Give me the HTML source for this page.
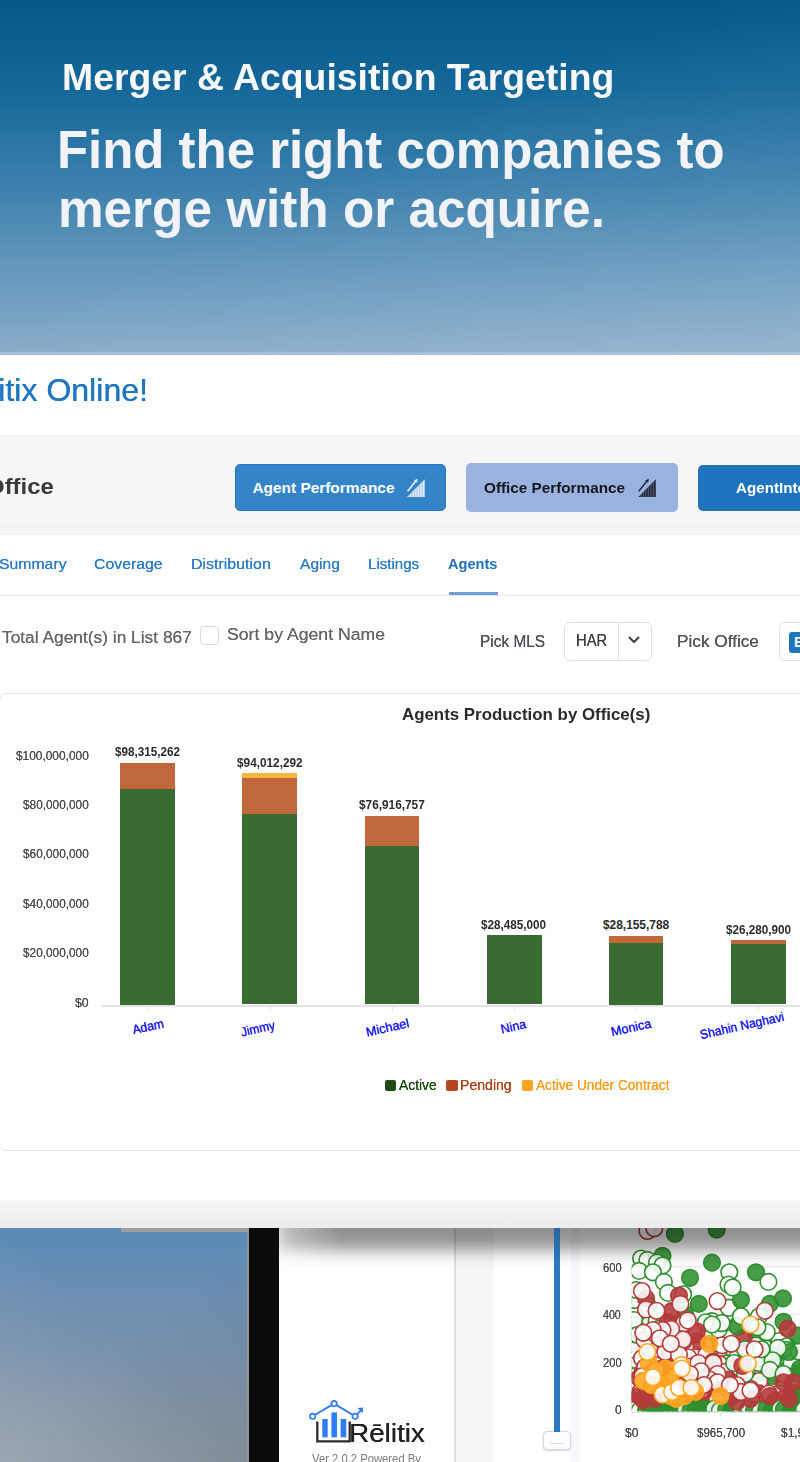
<!DOCTYPE html>
<html lang="en">
<head>
<meta charset="utf-8">
<title>Merger &amp; Acquisition Targeting</title>
<style>
html,body{margin:0;padding:0}
body{width:800px;height:1462px;position:relative;overflow:hidden;font-family:"Liberation Sans",sans-serif;background:#7f9dbd}
.abs,.t,.bar i{position:absolute}
.t{white-space:nowrap;line-height:1;transform-origin:0 50%;display:block}
.xl{font-size:13px;color:#1a1af2;transform-origin:50% 50%;text-shadow:0 0 .5px #1a1af2}
#hero{left:0;top:0;width:800px;height:356px;background:
 linear-gradient(155deg,rgba(255,255,255,0) 45%,rgba(255,255,255,.12) 100%),
 linear-gradient(180deg,#04588a 0%,#156899 25%,#387eab 50%,#6497bc 75%,#8aadca 100%)}
#app{left:0;top:354.5px;width:800px;height:873.5px;background:#fff}
#band{left:0;top:434.5px;width:800px;height:100.5px;background:#f6f6f7}
.btn{border-radius:5px}
#tabline{left:0;top:594.5px;width:800px;height:1.5px;background:#e7eaf1}
#tabsel{left:449px;top:591.5px;width:48.5px;height:3.5px;background:#6f9bd9}
#card{left:-1px;top:692.5px;width:820px;height:458px;border:1.5px solid #e4e6eb;border-radius:7px;background:#fff;box-sizing:border-box}
.bar i{left:0;width:100%}
#foot{left:0;top:1199.5px;width:800px;height:28.5px;background:linear-gradient(180deg,#f7f7f7,#ececec)}
#low{left:0;top:1228px;width:800px;height:234px;overflow:hidden;background:linear-gradient(to bottom left,rgba(255,255,255,0) 50%,rgba(255,255,255,.13) 100%) 0 0/247px 234px no-repeat,linear-gradient(to bottom right,rgba(0,0,0,0) 50%,rgba(0,0,0,.08) 100%) 0 0/247px 234px no-repeat,linear-gradient(180deg,#5a8bb8 0%,#6a8eb3 25%,#7691ac 50%,#8395a8 75%,#8d99a5 100%) 0 0/247px 234px no-repeat #8a96a2}
</style>
</head>
<body>
<div id="hero" class="abs"></div>

<div id="low" class="abs">
  <div class="abs" style="left:121px;top:0;width:127px;height:3.6px;background:#9e9e9e"></div>
  <div class="abs" style="left:246.5px;top:0;width:3px;height:234px;background:#8f979f"></div>
  <div class="abs" style="left:249px;top:0;width:30px;height:234px;background:#0c0c0c"></div>
  <div class="abs" style="left:279px;top:0;width:521px;height:234px;background:#fff;overflow:hidden">
    <div class="abs" style="left:175px;top:0;width:1.5px;height:234px;background:#dedede"></div>
    <div class="abs" style="left:176.5px;top:0;width:38.5px;height:234px;background:#f7f7f7"></div>
    <div class="abs" style="left:292px;top:0;width:9px;height:234px;background:#f8f8fd"></div>
    <!-- slider -->
    <div class="abs" style="left:263.5px;top:202.5px;width:28px;height:19px;border:1.5px solid #d6d6d6;border-radius:4px;background:#fdfdfd;box-sizing:border-box;box-shadow:0 1px 2px rgba(0,0,0,.15)"></div>
    <div class="abs" style="left:271px;top:215px;width:13px;height:1px;background:#ddd"></div>
    <!-- scatter -->
    <svg class="abs" style="left:-279px;top:-1228px" width="800" height="1462" viewBox="0 0 800 1462">
      <g stroke="#e4e4e4" stroke-width="1">
        <line x1="632" y1="1266.8" x2="800" y2="1266.8"/><line x1="632" y1="1314.3" x2="800" y2="1314.3"/>
        <line x1="632" y1="1362" x2="800" y2="1362"/><line x1="632" y1="1412.5" x2="800" y2="1412.5"/>
        <line x1="632" y1="1412.5" x2="632" y2="1417"/><line x1="720.5" y1="1412.5" x2="720.5" y2="1417"/>
      </g>
      <clipPath id="pc"><rect x="631.7" y="1200" width="200" height="211.3"/></clipPath>
      <g clip-path="url(#pc)">
<circle cx="716.1" cy="1399.3" r="8.3" fill="#fff" fill-opacity=".88" stroke="#2f8f2f" stroke-width="1.6"/>
<circle cx="689.4" cy="1393.5" r="8.3" fill="#fff" fill-opacity=".88" stroke="#2f8f2f" stroke-width="1.6"/>
<circle cx="664.4" cy="1399.4" r="8.3" fill="#fff" fill-opacity=".88" stroke="#2f8f2f" stroke-width="1.6"/>
<circle cx="709.4" cy="1382.2" r="8.3" fill="#fff" fill-opacity=".88" stroke="#2f8f2f" stroke-width="1.6"/>
<circle cx="774.1" cy="1403.6" r="8.3" fill="#fff" fill-opacity=".88" stroke="#2f8f2f" stroke-width="1.6"/>
<circle cx="767.3" cy="1378.1" r="8.3" fill="#fff" fill-opacity=".88" stroke="#2f8f2f" stroke-width="1.6"/>
<circle cx="676.8" cy="1393.5" r="8.3" fill="#fff" fill-opacity=".88" stroke="#2f8f2f" stroke-width="1.6"/>
<circle cx="679.1" cy="1396.9" r="8.3" fill="#fff" fill-opacity=".88" stroke="#2f8f2f" stroke-width="1.6"/>
<circle cx="727.3" cy="1383.7" r="8.3" fill="#2f8f2f" fill-opacity=".88" stroke="#2f8f2f" stroke-width="1.6"/>
<circle cx="728.9" cy="1381.5" r="8.3" fill="#fff" fill-opacity=".88" stroke="#2f8f2f" stroke-width="1.6"/>
<circle cx="767.8" cy="1368.3" r="8.3" fill="#fff" fill-opacity=".88" stroke="#2f8f2f" stroke-width="1.6"/>
<circle cx="686.7" cy="1320.2" r="8.3" fill="#fff" fill-opacity=".88" stroke="#2f8f2f" stroke-width="1.6"/>
<circle cx="664.6" cy="1356.9" r="8.3" fill="#2f8f2f" fill-opacity=".88" stroke="#2f8f2f" stroke-width="1.6"/>
<circle cx="806.3" cy="1394.2" r="8.3" fill="#fff" fill-opacity=".88" stroke="#2f8f2f" stroke-width="1.6"/>
<circle cx="741.0" cy="1356.6" r="8.3" fill="#fff" fill-opacity=".88" stroke="#2f8f2f" stroke-width="1.6"/>
<circle cx="768.2" cy="1385.1" r="8.3" fill="#fff" fill-opacity=".88" stroke="#2f8f2f" stroke-width="1.6"/>
<circle cx="639.3" cy="1390.0" r="8.3" fill="#fff" fill-opacity=".88" stroke="#2f8f2f" stroke-width="1.6"/>
<circle cx="637.8" cy="1365.0" r="8.3" fill="#fff" fill-opacity=".88" stroke="#2f8f2f" stroke-width="1.6"/>
<circle cx="696.3" cy="1375.1" r="8.3" fill="#fff" fill-opacity=".88" stroke="#2f8f2f" stroke-width="1.6"/>
<circle cx="776.4" cy="1387.9" r="8.3" fill="#fff" fill-opacity=".88" stroke="#2f8f2f" stroke-width="1.6"/>
<circle cx="753.5" cy="1398.1" r="8.3" fill="#fff" fill-opacity=".88" stroke="#2f8f2f" stroke-width="1.6"/>
<circle cx="754.8" cy="1336.2" r="8.3" fill="#fff" fill-opacity=".88" stroke="#2f8f2f" stroke-width="1.6"/>
<circle cx="784.9" cy="1393.9" r="8.3" fill="#fff" fill-opacity=".88" stroke="#2f8f2f" stroke-width="1.6"/>
<circle cx="686.5" cy="1379.1" r="8.3" fill="#fff" fill-opacity=".88" stroke="#2f8f2f" stroke-width="1.6"/>
<circle cx="697.8" cy="1389.8" r="8.3" fill="#2f8f2f" fill-opacity=".88" stroke="#2f8f2f" stroke-width="1.6"/>
<circle cx="679.5" cy="1326.2" r="8.3" fill="#fff" fill-opacity=".88" stroke="#2f8f2f" stroke-width="1.6"/>
<circle cx="671.0" cy="1378.0" r="8.3" fill="#fff" fill-opacity=".88" stroke="#2f8f2f" stroke-width="1.6"/>
<circle cx="765.6" cy="1364.7" r="8.3" fill="#fff" fill-opacity=".88" stroke="#2f8f2f" stroke-width="1.6"/>
<circle cx="688.3" cy="1395.6" r="8.3" fill="#fff" fill-opacity=".88" stroke="#2f8f2f" stroke-width="1.6"/>
<circle cx="731.0" cy="1338.1" r="8.3" fill="#fff" fill-opacity=".88" stroke="#2f8f2f" stroke-width="1.6"/>
<circle cx="755.4" cy="1397.5" r="8.3" fill="#2f8f2f" fill-opacity=".88" stroke="#2f8f2f" stroke-width="1.6"/>
<circle cx="728.0" cy="1360.2" r="8.3" fill="#fff" fill-opacity=".88" stroke="#2f8f2f" stroke-width="1.6"/>
<circle cx="778.5" cy="1353.4" r="8.3" fill="#fff" fill-opacity=".88" stroke="#2f8f2f" stroke-width="1.6"/>
<circle cx="771.8" cy="1389.1" r="8.3" fill="#fff" fill-opacity=".88" stroke="#2f8f2f" stroke-width="1.6"/>
<circle cx="760.3" cy="1355.3" r="8.3" fill="#2f8f2f" fill-opacity=".88" stroke="#2f8f2f" stroke-width="1.6"/>
<circle cx="703.2" cy="1405.0" r="8.3" fill="#fff" fill-opacity=".88" stroke="#2f8f2f" stroke-width="1.6"/>
<circle cx="658.3" cy="1388.9" r="8.3" fill="#fff" fill-opacity=".88" stroke="#2f8f2f" stroke-width="1.6"/>
<circle cx="772.7" cy="1365.1" r="8.3" fill="#fff" fill-opacity=".88" stroke="#2f8f2f" stroke-width="1.6"/>
<circle cx="637.1" cy="1295.0" r="8.3" fill="#fff" fill-opacity=".88" stroke="#2f8f2f" stroke-width="1.6"/>
<circle cx="773.2" cy="1354.4" r="8.3" fill="#fff" fill-opacity=".88" stroke="#2f8f2f" stroke-width="1.6"/>
<circle cx="733.0" cy="1408.6" r="8.3" fill="#fff" fill-opacity=".88" stroke="#2f8f2f" stroke-width="1.6"/>
<circle cx="664.5" cy="1369.1" r="8.3" fill="#fff" fill-opacity=".88" stroke="#2f8f2f" stroke-width="1.6"/>
<circle cx="698.9" cy="1397.0" r="8.3" fill="#fff" fill-opacity=".88" stroke="#2f8f2f" stroke-width="1.6"/>
<circle cx="717.7" cy="1401.3" r="8.3" fill="#fff" fill-opacity=".88" stroke="#2f8f2f" stroke-width="1.6"/>
<circle cx="736.4" cy="1345.2" r="8.3" fill="#fff" fill-opacity=".88" stroke="#2f8f2f" stroke-width="1.6"/>
<circle cx="655.6" cy="1375.1" r="8.3" fill="#fff" fill-opacity=".88" stroke="#2f8f2f" stroke-width="1.6"/>
<circle cx="723.1" cy="1361.1" r="8.3" fill="#fff" fill-opacity=".88" stroke="#2f8f2f" stroke-width="1.6"/>
<circle cx="770.6" cy="1348.3" r="8.3" fill="#2f8f2f" fill-opacity=".88" stroke="#2f8f2f" stroke-width="1.6"/>
<circle cx="758.2" cy="1389.0" r="8.3" fill="#fff" fill-opacity=".88" stroke="#2f8f2f" stroke-width="1.6"/>
<circle cx="674.0" cy="1402.8" r="8.3" fill="#fff" fill-opacity=".88" stroke="#2f8f2f" stroke-width="1.6"/>
<circle cx="706.9" cy="1367.3" r="8.3" fill="#fff" fill-opacity=".88" stroke="#2f8f2f" stroke-width="1.6"/>
<circle cx="789.1" cy="1371.6" r="8.3" fill="#fff" fill-opacity=".88" stroke="#2f8f2f" stroke-width="1.6"/>
<circle cx="765.1" cy="1348.0" r="8.3" fill="#fff" fill-opacity=".88" stroke="#2f8f2f" stroke-width="1.6"/>
<circle cx="702.7" cy="1387.8" r="8.3" fill="#fff" fill-opacity=".88" stroke="#2f8f2f" stroke-width="1.6"/>
<circle cx="701.8" cy="1369.6" r="8.3" fill="#fff" fill-opacity=".88" stroke="#2f8f2f" stroke-width="1.6"/>
<circle cx="671.5" cy="1312.1" r="8.3" fill="#fff" fill-opacity=".88" stroke="#2f8f2f" stroke-width="1.6"/>
<circle cx="721.2" cy="1397.3" r="8.3" fill="#fff" fill-opacity=".88" stroke="#2f8f2f" stroke-width="1.6"/>
<circle cx="652.2" cy="1358.5" r="8.3" fill="#fff" fill-opacity=".88" stroke="#2f8f2f" stroke-width="1.6"/>
<circle cx="672.0" cy="1358.8" r="8.3" fill="#fff" fill-opacity=".88" stroke="#2f8f2f" stroke-width="1.6"/>
<circle cx="677.0" cy="1356.3" r="8.3" fill="#fff" fill-opacity=".88" stroke="#2f8f2f" stroke-width="1.6"/>
<circle cx="647.4" cy="1403.8" r="8.3" fill="#fff" fill-opacity=".88" stroke="#2f8f2f" stroke-width="1.6"/>
<circle cx="707.1" cy="1401.9" r="8.3" fill="#2f8f2f" fill-opacity=".88" stroke="#2f8f2f" stroke-width="1.6"/>
<circle cx="637.1" cy="1370.0" r="8.3" fill="#fff" fill-opacity=".88" stroke="#2f8f2f" stroke-width="1.6"/>
<circle cx="682.5" cy="1397.9" r="8.3" fill="#fff" fill-opacity=".88" stroke="#2f8f2f" stroke-width="1.6"/>
<circle cx="754.4" cy="1385.6" r="8.3" fill="#fff" fill-opacity=".88" stroke="#2f8f2f" stroke-width="1.6"/>
<circle cx="706.6" cy="1383.8" r="8.3" fill="#fff" fill-opacity=".88" stroke="#2f8f2f" stroke-width="1.6"/>
<circle cx="728.3" cy="1394.6" r="8.3" fill="#fff" fill-opacity=".88" stroke="#2f8f2f" stroke-width="1.6"/>
<circle cx="696.0" cy="1375.9" r="8.3" fill="#fff" fill-opacity=".88" stroke="#2f8f2f" stroke-width="1.6"/>
<circle cx="756.5" cy="1373.0" r="8.3" fill="#fff" fill-opacity=".88" stroke="#2f8f2f" stroke-width="1.6"/>
<circle cx="715.9" cy="1377.1" r="8.3" fill="#fff" fill-opacity=".88" stroke="#2f8f2f" stroke-width="1.6"/>
<circle cx="717.3" cy="1392.9" r="8.3" fill="#fff" fill-opacity=".88" stroke="#2f8f2f" stroke-width="1.6"/>
<circle cx="636.4" cy="1305.0" r="8.3" fill="#fff" fill-opacity=".88" stroke="#2f8f2f" stroke-width="1.6"/>
<circle cx="711.5" cy="1391.5" r="8.3" fill="#fff" fill-opacity=".88" stroke="#2f8f2f" stroke-width="1.6"/>
<circle cx="654.2" cy="1370.8" r="8.3" fill="#fff" fill-opacity=".88" stroke="#2f8f2f" stroke-width="1.6"/>
<circle cx="635.4" cy="1310.0" r="8.3" fill="#fff" fill-opacity=".88" stroke="#2f8f2f" stroke-width="1.6"/>
<circle cx="682.2" cy="1324.7" r="8.3" fill="#fff" fill-opacity=".88" stroke="#2f8f2f" stroke-width="1.6"/>
<circle cx="656.7" cy="1321.1" r="8.3" fill="#fff" fill-opacity=".88" stroke="#2f8f2f" stroke-width="1.6"/>
<circle cx="715.3" cy="1386.6" r="8.3" fill="#2f8f2f" fill-opacity=".88" stroke="#2f8f2f" stroke-width="1.6"/>
<circle cx="706.0" cy="1379.7" r="8.3" fill="#fff" fill-opacity=".88" stroke="#2f8f2f" stroke-width="1.6"/>
<circle cx="740.6" cy="1355.5" r="8.3" fill="#fff" fill-opacity=".88" stroke="#2f8f2f" stroke-width="1.6"/>
<circle cx="636.1" cy="1315.0" r="8.3" fill="#fff" fill-opacity=".88" stroke="#2f8f2f" stroke-width="1.6"/>
<circle cx="801.4" cy="1369.4" r="8.3" fill="#fff" fill-opacity=".88" stroke="#2f8f2f" stroke-width="1.6"/>
<circle cx="722.9" cy="1387.5" r="8.3" fill="#fff" fill-opacity=".88" stroke="#2f8f2f" stroke-width="1.6"/>
<circle cx="693.6" cy="1397.8" r="8.3" fill="#fff" fill-opacity=".88" stroke="#2f8f2f" stroke-width="1.6"/>
<circle cx="669.1" cy="1370.8" r="8.3" fill="#fff" fill-opacity=".88" stroke="#2f8f2f" stroke-width="1.6"/>
<circle cx="707.7" cy="1333.6" r="8.3" fill="#fff" fill-opacity=".88" stroke="#2f8f2f" stroke-width="1.6"/>
<circle cx="762.4" cy="1406.4" r="8.3" fill="#2f8f2f" fill-opacity=".88" stroke="#2f8f2f" stroke-width="1.6"/>
<circle cx="744.4" cy="1386.8" r="8.3" fill="#fff" fill-opacity=".88" stroke="#2f8f2f" stroke-width="1.6"/>
<circle cx="691.4" cy="1390.4" r="8.3" fill="#2f8f2f" fill-opacity=".88" stroke="#2f8f2f" stroke-width="1.6"/>
<circle cx="634.8" cy="1395.0" r="8.3" fill="#fff" fill-opacity=".88" stroke="#2f8f2f" stroke-width="1.6"/>
<circle cx="736.5" cy="1369.6" r="8.3" fill="#fff" fill-opacity=".88" stroke="#2f8f2f" stroke-width="1.6"/>
<circle cx="666.9" cy="1374.0" r="8.3" fill="#fff" fill-opacity=".88" stroke="#2f8f2f" stroke-width="1.6"/>
<circle cx="700.9" cy="1374.5" r="8.3" fill="#fff" fill-opacity=".88" stroke="#2f8f2f" stroke-width="1.6"/>
<circle cx="744.5" cy="1345.6" r="8.3" fill="#fff" fill-opacity=".88" stroke="#2f8f2f" stroke-width="1.6"/>
<circle cx="767.1" cy="1364.6" r="8.3" fill="#fff" fill-opacity=".88" stroke="#2f8f2f" stroke-width="1.6"/>
<circle cx="748.3" cy="1365.0" r="8.3" fill="#fff" fill-opacity=".88" stroke="#2f8f2f" stroke-width="1.6"/>
<circle cx="708.8" cy="1388.8" r="8.3" fill="#fff" fill-opacity=".88" stroke="#2f8f2f" stroke-width="1.6"/>
<circle cx="683.9" cy="1350.4" r="8.3" fill="#fff" fill-opacity=".88" stroke="#2f8f2f" stroke-width="1.6"/>
<circle cx="756.9" cy="1399.3" r="8.3" fill="#2f8f2f" fill-opacity=".88" stroke="#2f8f2f" stroke-width="1.6"/>
<circle cx="731.1" cy="1381.6" r="8.3" fill="#fff" fill-opacity=".88" stroke="#2f8f2f" stroke-width="1.6"/>
<circle cx="717.7" cy="1365.4" r="8.3" fill="#fff" fill-opacity=".88" stroke="#2f8f2f" stroke-width="1.6"/>
<circle cx="653.3" cy="1402.8" r="8.3" fill="#fff" fill-opacity=".88" stroke="#2f8f2f" stroke-width="1.6"/>
<circle cx="639.2" cy="1377.7" r="8.3" fill="#fff" fill-opacity=".88" stroke="#2f8f2f" stroke-width="1.6"/>
<circle cx="718.0" cy="1402.0" r="8.3" fill="#fff" fill-opacity=".88" stroke="#2f8f2f" stroke-width="1.6"/>
<circle cx="752.3" cy="1382.2" r="8.3" fill="#2f8f2f" fill-opacity=".88" stroke="#2f8f2f" stroke-width="1.6"/>
<circle cx="739.9" cy="1372.3" r="8.3" fill="#fff" fill-opacity=".88" stroke="#2f8f2f" stroke-width="1.6"/>
<circle cx="692.2" cy="1398.3" r="8.3" fill="#fff" fill-opacity=".88" stroke="#2f8f2f" stroke-width="1.6"/>
<circle cx="692.0" cy="1357.0" r="8.3" fill="#fff" fill-opacity=".88" stroke="#2f8f2f" stroke-width="1.6"/>
<circle cx="714.4" cy="1365.0" r="8.3" fill="#fff" fill-opacity=".88" stroke="#2f8f2f" stroke-width="1.6"/>
<circle cx="697.8" cy="1380.9" r="8.3" fill="#fff" fill-opacity=".88" stroke="#2f8f2f" stroke-width="1.6"/>
<circle cx="653.8" cy="1396.7" r="8.3" fill="#fff" fill-opacity=".88" stroke="#2f8f2f" stroke-width="1.6"/>
<circle cx="634.7" cy="1400.0" r="8.3" fill="#fff" fill-opacity=".88" stroke="#2f8f2f" stroke-width="1.6"/>
<circle cx="733.4" cy="1360.5" r="8.3" fill="#fff" fill-opacity=".88" stroke="#2f8f2f" stroke-width="1.6"/>
<circle cx="719.2" cy="1397.2" r="8.3" fill="#fff" fill-opacity=".88" stroke="#2f8f2f" stroke-width="1.6"/>
<circle cx="671.5" cy="1325.1" r="8.3" fill="#fff" fill-opacity=".88" stroke="#2f8f2f" stroke-width="1.6"/>
<circle cx="676.3" cy="1325.4" r="8.3" fill="#fff" fill-opacity=".88" stroke="#2f8f2f" stroke-width="1.6"/>
<circle cx="740.5" cy="1361.4" r="8.3" fill="#2f8f2f" fill-opacity=".88" stroke="#2f8f2f" stroke-width="1.6"/>
<circle cx="711.4" cy="1372.9" r="8.3" fill="#fff" fill-opacity=".88" stroke="#2f8f2f" stroke-width="1.6"/>
<circle cx="757.7" cy="1395.4" r="8.3" fill="#fff" fill-opacity=".88" stroke="#2f8f2f" stroke-width="1.6"/>
<circle cx="690.4" cy="1397.8" r="8.3" fill="#fff" fill-opacity=".88" stroke="#2f8f2f" stroke-width="1.6"/>
<circle cx="698.4" cy="1404.6" r="8.3" fill="#fff" fill-opacity=".88" stroke="#2f8f2f" stroke-width="1.6"/>
<circle cx="732.9" cy="1370.9" r="8.3" fill="#fff" fill-opacity=".88" stroke="#2f8f2f" stroke-width="1.6"/>
<circle cx="675.1" cy="1358.3" r="8.3" fill="#fff" fill-opacity=".88" stroke="#2f8f2f" stroke-width="1.6"/>
<circle cx="634.6" cy="1300.0" r="8.3" fill="#fff" fill-opacity=".88" stroke="#2f8f2f" stroke-width="1.6"/>
<circle cx="639.8" cy="1374.9" r="8.3" fill="#fff" fill-opacity=".88" stroke="#2f8f2f" stroke-width="1.6"/>
<circle cx="799.3" cy="1372.0" r="8.3" fill="#fff" fill-opacity=".88" stroke="#2f8f2f" stroke-width="1.6"/>
<circle cx="743.9" cy="1338.8" r="8.3" fill="#fff" fill-opacity=".88" stroke="#2f8f2f" stroke-width="1.6"/>
<circle cx="770.1" cy="1367.7" r="8.3" fill="#2f8f2f" fill-opacity=".88" stroke="#2f8f2f" stroke-width="1.6"/>
<circle cx="709.5" cy="1364.5" r="8.3" fill="#fff" fill-opacity=".88" stroke="#2f8f2f" stroke-width="1.6"/>
<circle cx="779.3" cy="1341.0" r="8.3" fill="#fff" fill-opacity=".88" stroke="#2f8f2f" stroke-width="1.6"/>
<circle cx="665.3" cy="1373.9" r="8.3" fill="#fff" fill-opacity=".88" stroke="#2f8f2f" stroke-width="1.6"/>
<circle cx="731.7" cy="1387.8" r="8.3" fill="#fff" fill-opacity=".88" stroke="#2f8f2f" stroke-width="1.6"/>
<circle cx="678.3" cy="1388.0" r="8.3" fill="#fff" fill-opacity=".88" stroke="#2f8f2f" stroke-width="1.6"/>
<circle cx="703.2" cy="1346.3" r="8.3" fill="#fff" fill-opacity=".88" stroke="#2f8f2f" stroke-width="1.6"/>
<circle cx="725.3" cy="1353.7" r="8.3" fill="#2f8f2f" fill-opacity=".88" stroke="#2f8f2f" stroke-width="1.6"/>
<circle cx="637.1" cy="1355.0" r="8.3" fill="#fff" fill-opacity=".88" stroke="#2f8f2f" stroke-width="1.6"/>
<circle cx="738.2" cy="1403.5" r="8.3" fill="#fff" fill-opacity=".88" stroke="#2f8f2f" stroke-width="1.6"/>
<circle cx="638.4" cy="1390.5" r="8.3" fill="#fff" fill-opacity=".88" stroke="#2f8f2f" stroke-width="1.6"/>
<circle cx="682.2" cy="1354.2" r="8.3" fill="#fff" fill-opacity=".88" stroke="#2f8f2f" stroke-width="1.6"/>
<circle cx="757.1" cy="1338.3" r="8.3" fill="#2f8f2f" fill-opacity=".88" stroke="#2f8f2f" stroke-width="1.6"/>
<circle cx="759.3" cy="1352.9" r="8.3" fill="#2f8f2f" fill-opacity=".88" stroke="#2f8f2f" stroke-width="1.6"/>
<circle cx="634.3" cy="1405.0" r="8.3" fill="#fff" fill-opacity=".88" stroke="#2f8f2f" stroke-width="1.6"/>
<circle cx="684.3" cy="1399.3" r="8.3" fill="#fff" fill-opacity=".88" stroke="#2f8f2f" stroke-width="1.6"/>
<circle cx="782.7" cy="1356.4" r="8.3" fill="#2f8f2f" fill-opacity=".88" stroke="#2f8f2f" stroke-width="1.6"/>
<circle cx="661.7" cy="1350.2" r="8.3" fill="#fff" fill-opacity=".88" stroke="#2f8f2f" stroke-width="1.6"/>
<circle cx="646.4" cy="1368.7" r="8.3" fill="#fff" fill-opacity=".88" stroke="#2f8f2f" stroke-width="1.6"/>
<circle cx="733.6" cy="1346.1" r="8.3" fill="#fff" fill-opacity=".88" stroke="#2f8f2f" stroke-width="1.6"/>
<circle cx="716.3" cy="1386.7" r="8.3" fill="#fff" fill-opacity=".88" stroke="#2f8f2f" stroke-width="1.6"/>
<circle cx="669.9" cy="1393.7" r="8.3" fill="#fff" fill-opacity=".88" stroke="#2f8f2f" stroke-width="1.6"/>
<circle cx="797.4" cy="1355.3" r="8.3" fill="#fff" fill-opacity=".88" stroke="#2f8f2f" stroke-width="1.6"/>
<circle cx="770.9" cy="1381.3" r="8.3" fill="#fff" fill-opacity=".88" stroke="#2f8f2f" stroke-width="1.6"/>
<circle cx="770.9" cy="1395.2" r="8.3" fill="#fff" fill-opacity=".88" stroke="#2f8f2f" stroke-width="1.6"/>
<circle cx="660.1" cy="1396.1" r="8.3" fill="#2f8f2f" fill-opacity=".88" stroke="#2f8f2f" stroke-width="1.6"/>
<circle cx="661.8" cy="1386.6" r="8.3" fill="#fff" fill-opacity=".88" stroke="#2f8f2f" stroke-width="1.6"/>
<circle cx="693.8" cy="1363.0" r="8.3" fill="#fff" fill-opacity=".88" stroke="#2f8f2f" stroke-width="1.6"/>
<circle cx="737.7" cy="1406.6" r="8.3" fill="#fff" fill-opacity=".88" stroke="#2f8f2f" stroke-width="1.6"/>
<circle cx="753.3" cy="1350.7" r="8.3" fill="#2f8f2f" fill-opacity=".88" stroke="#2f8f2f" stroke-width="1.6"/>
<circle cx="681.5" cy="1403.3" r="8.3" fill="#fff" fill-opacity=".88" stroke="#2f8f2f" stroke-width="1.6"/>
<circle cx="637.3" cy="1375.0" r="8.3" fill="#fff" fill-opacity=".88" stroke="#2f8f2f" stroke-width="1.6"/>
<circle cx="675.9" cy="1363.3" r="8.3" fill="#fff" fill-opacity=".88" stroke="#2f8f2f" stroke-width="1.6"/>
<circle cx="676.6" cy="1380.1" r="8.3" fill="#fff" fill-opacity=".88" stroke="#2f8f2f" stroke-width="1.6"/>
<circle cx="680.4" cy="1385.5" r="8.3" fill="#fff" fill-opacity=".88" stroke="#2f8f2f" stroke-width="1.6"/>
<circle cx="681.8" cy="1398.2" r="8.3" fill="#fff" fill-opacity=".88" stroke="#2f8f2f" stroke-width="1.6"/>
<circle cx="774.5" cy="1378.8" r="8.3" fill="#fff" fill-opacity=".88" stroke="#2f8f2f" stroke-width="1.6"/>
<circle cx="749.1" cy="1408.1" r="8.3" fill="#fff" fill-opacity=".88" stroke="#2f8f2f" stroke-width="1.6"/>
<circle cx="746.4" cy="1388.3" r="8.3" fill="#fff" fill-opacity=".88" stroke="#2f8f2f" stroke-width="1.6"/>
<circle cx="659.0" cy="1393.6" r="8.3" fill="#fff" fill-opacity=".88" stroke="#2f8f2f" stroke-width="1.6"/>
<circle cx="648.8" cy="1398.8" r="8.3" fill="#fff" fill-opacity=".88" stroke="#2f8f2f" stroke-width="1.6"/>
<circle cx="742.4" cy="1391.5" r="8.3" fill="#fff" fill-opacity=".88" stroke="#2f8f2f" stroke-width="1.6"/>
<circle cx="672.1" cy="1399.4" r="8.3" fill="#fff" fill-opacity=".88" stroke="#2f8f2f" stroke-width="1.6"/>
<circle cx="807.1" cy="1363.3" r="8.3" fill="#fff" fill-opacity=".88" stroke="#2f8f2f" stroke-width="1.6"/>
<circle cx="658.0" cy="1378.3" r="8.3" fill="#fff" fill-opacity=".88" stroke="#2f8f2f" stroke-width="1.6"/>
<circle cx="648.8" cy="1345.1" r="8.3" fill="#2f8f2f" fill-opacity=".88" stroke="#2f8f2f" stroke-width="1.6"/>
<circle cx="758.8" cy="1316.7" r="8.3" fill="#fff" fill-opacity=".88" stroke="#2f8f2f" stroke-width="1.6"/>
<circle cx="753.1" cy="1383.4" r="8.3" fill="#fff" fill-opacity=".88" stroke="#2f8f2f" stroke-width="1.6"/>
<circle cx="636.5" cy="1290.0" r="8.3" fill="#fff" fill-opacity=".88" stroke="#2f8f2f" stroke-width="1.6"/>
<circle cx="782.6" cy="1373.7" r="8.3" fill="#2f8f2f" fill-opacity=".88" stroke="#2f8f2f" stroke-width="1.6"/>
<circle cx="648.0" cy="1306.0" r="8.3" fill="#fff" fill-opacity=".88" stroke="#2f8f2f" stroke-width="1.6"/>
<circle cx="750.7" cy="1348.4" r="8.3" fill="#fff" fill-opacity=".88" stroke="#2f8f2f" stroke-width="1.6"/>
<circle cx="660.1" cy="1388.3" r="8.3" fill="#fff" fill-opacity=".88" stroke="#2f8f2f" stroke-width="1.6"/>
<circle cx="711.8" cy="1321.2" r="8.3" fill="#fff" fill-opacity=".88" stroke="#2f8f2f" stroke-width="1.6"/>
<circle cx="681.7" cy="1350.2" r="8.3" fill="#fff" fill-opacity=".88" stroke="#2f8f2f" stroke-width="1.6"/>
<circle cx="742.5" cy="1381.8" r="8.3" fill="#fff" fill-opacity=".88" stroke="#2f8f2f" stroke-width="1.6"/>
<circle cx="731.5" cy="1395.6" r="8.3" fill="#fff" fill-opacity=".88" stroke="#2f8f2f" stroke-width="1.6"/>
<circle cx="692.3" cy="1354.5" r="8.3" fill="#fff" fill-opacity=".88" stroke="#2f8f2f" stroke-width="1.6"/>
<circle cx="652.9" cy="1397.7" r="8.3" fill="#fff" fill-opacity=".88" stroke="#2f8f2f" stroke-width="1.6"/>
<circle cx="706.6" cy="1385.1" r="8.3" fill="#fff" fill-opacity=".88" stroke="#2f8f2f" stroke-width="1.6"/>
<circle cx="790.7" cy="1350.9" r="8.3" fill="#fff" fill-opacity=".88" stroke="#2f8f2f" stroke-width="1.6"/>
<circle cx="705.7" cy="1370.2" r="8.3" fill="#fff" fill-opacity=".88" stroke="#2f8f2f" stroke-width="1.6"/>
<circle cx="779.0" cy="1368.4" r="8.3" fill="#fff" fill-opacity=".88" stroke="#2f8f2f" stroke-width="1.6"/>
<circle cx="636.3" cy="1345.0" r="8.3" fill="#fff" fill-opacity=".88" stroke="#2f8f2f" stroke-width="1.6"/>
<circle cx="788.8" cy="1364.5" r="8.3" fill="#fff" fill-opacity=".88" stroke="#2f8f2f" stroke-width="1.6"/>
<circle cx="787.7" cy="1396.0" r="8.3" fill="#fff" fill-opacity=".88" stroke="#2f8f2f" stroke-width="1.6"/>
<circle cx="695.7" cy="1382.3" r="8.3" fill="#fff" fill-opacity=".88" stroke="#2f8f2f" stroke-width="1.6"/>
<circle cx="637.9" cy="1380.0" r="8.3" fill="#fff" fill-opacity=".88" stroke="#2f8f2f" stroke-width="1.6"/>
<circle cx="635.7" cy="1360.0" r="8.3" fill="#fff" fill-opacity=".88" stroke="#2f8f2f" stroke-width="1.6"/>
<circle cx="746.1" cy="1346.6" r="8.3" fill="#2f8f2f" fill-opacity=".88" stroke="#2f8f2f" stroke-width="1.6"/>
<circle cx="686.4" cy="1396.5" r="8.3" fill="#fff" fill-opacity=".88" stroke="#2f8f2f" stroke-width="1.6"/>
<circle cx="688.5" cy="1382.3" r="8.3" fill="#2f8f2f" fill-opacity=".88" stroke="#2f8f2f" stroke-width="1.6"/>
<circle cx="791.4" cy="1369.9" r="8.3" fill="#fff" fill-opacity=".88" stroke="#2f8f2f" stroke-width="1.6"/>
<circle cx="788.8" cy="1390.6" r="8.3" fill="#2f8f2f" fill-opacity=".88" stroke="#2f8f2f" stroke-width="1.6"/>
<circle cx="733.5" cy="1350.4" r="8.3" fill="#fff" fill-opacity=".88" stroke="#2f8f2f" stroke-width="1.6"/>
<circle cx="654.7" cy="1363.4" r="8.3" fill="#fff" fill-opacity=".88" stroke="#2f8f2f" stroke-width="1.6"/>
<circle cx="652.5" cy="1366.2" r="8.3" fill="#fff" fill-opacity=".88" stroke="#2f8f2f" stroke-width="1.6"/>
<circle cx="715.8" cy="1359.3" r="8.3" fill="#fff" fill-opacity=".88" stroke="#2f8f2f" stroke-width="1.6"/>
<circle cx="722.5" cy="1382.4" r="8.3" fill="#fff" fill-opacity=".88" stroke="#2f8f2f" stroke-width="1.6"/>
<circle cx="674.8" cy="1336.6" r="8.3" fill="#fff" fill-opacity=".88" stroke="#2f8f2f" stroke-width="1.6"/>
<circle cx="663.7" cy="1338.3" r="8.3" fill="#fff" fill-opacity=".88" stroke="#2f8f2f" stroke-width="1.6"/>
<circle cx="785.2" cy="1349.6" r="8.3" fill="#fff" fill-opacity=".88" stroke="#2f8f2f" stroke-width="1.6"/>
<circle cx="722.7" cy="1375.7" r="8.3" fill="#fff" fill-opacity=".88" stroke="#2f8f2f" stroke-width="1.6"/>
<circle cx="747.8" cy="1384.6" r="8.3" fill="#fff" fill-opacity=".88" stroke="#2f8f2f" stroke-width="1.6"/>
<circle cx="794.8" cy="1385.2" r="8.3" fill="#fff" fill-opacity=".88" stroke="#2f8f2f" stroke-width="1.6"/>
<circle cx="720.6" cy="1405.7" r="8.3" fill="#fff" fill-opacity=".88" stroke="#2f8f2f" stroke-width="1.6"/>
<circle cx="634.1" cy="1325.0" r="8.3" fill="#fff" fill-opacity=".88" stroke="#2f8f2f" stroke-width="1.6"/>
<circle cx="787.1" cy="1387.5" r="8.3" fill="#fff" fill-opacity=".88" stroke="#2f8f2f" stroke-width="1.6"/>
<circle cx="702.5" cy="1395.4" r="8.3" fill="#fff" fill-opacity=".88" stroke="#2f8f2f" stroke-width="1.6"/>
<circle cx="744.2" cy="1360.1" r="8.3" fill="#fff" fill-opacity=".88" stroke="#2f8f2f" stroke-width="1.6"/>
<circle cx="693.7" cy="1330.4" r="8.3" fill="#fff" fill-opacity=".88" stroke="#2f8f2f" stroke-width="1.6"/>
<circle cx="681.8" cy="1390.7" r="8.3" fill="#fff" fill-opacity=".88" stroke="#2f8f2f" stroke-width="1.6"/>
<circle cx="739.1" cy="1391.6" r="8.3" fill="#fff" fill-opacity=".88" stroke="#2f8f2f" stroke-width="1.6"/>
<circle cx="718.7" cy="1378.2" r="8.3" fill="#fff" fill-opacity=".88" stroke="#2f8f2f" stroke-width="1.6"/>
<circle cx="643.5" cy="1374.3" r="8.3" fill="#fff" fill-opacity=".88" stroke="#2f8f2f" stroke-width="1.6"/>
<circle cx="659.0" cy="1328.7" r="8.3" fill="#fff" fill-opacity=".88" stroke="#2f8f2f" stroke-width="1.6"/>
<circle cx="675.1" cy="1392.9" r="8.3" fill="#fff" fill-opacity=".88" stroke="#2f8f2f" stroke-width="1.6"/>
<circle cx="773.4" cy="1379.2" r="8.3" fill="#fff" fill-opacity=".88" stroke="#2f8f2f" stroke-width="1.6"/>
<circle cx="743.9" cy="1351.6" r="8.3" fill="#fff" fill-opacity=".88" stroke="#2f8f2f" stroke-width="1.6"/>
<circle cx="809.7" cy="1384.7" r="8.3" fill="#2f8f2f" fill-opacity=".88" stroke="#2f8f2f" stroke-width="1.6"/>
<circle cx="671.8" cy="1399.1" r="8.3" fill="#fff" fill-opacity=".88" stroke="#2f8f2f" stroke-width="1.6"/>
<circle cx="693.5" cy="1387.3" r="8.3" fill="#fff" fill-opacity=".88" stroke="#2f8f2f" stroke-width="1.6"/>
<circle cx="635.9" cy="1340.0" r="8.3" fill="#fff" fill-opacity=".88" stroke="#2f8f2f" stroke-width="1.6"/>
<circle cx="694.0" cy="1346.3" r="8.3" fill="#fff" fill-opacity=".88" stroke="#2f8f2f" stroke-width="1.6"/>
<circle cx="658.2" cy="1377.8" r="8.3" fill="#fff" fill-opacity=".88" stroke="#2f8f2f" stroke-width="1.6"/>
<circle cx="641.2" cy="1396.7" r="8.3" fill="#fff" fill-opacity=".88" stroke="#2f8f2f" stroke-width="1.6"/>
<circle cx="778.6" cy="1381.3" r="8.3" fill="#fff" fill-opacity=".88" stroke="#2f8f2f" stroke-width="1.6"/>
<circle cx="712.2" cy="1373.4" r="8.3" fill="#2f8f2f" fill-opacity=".88" stroke="#2f8f2f" stroke-width="1.6"/>
<circle cx="688.1" cy="1400.7" r="8.3" fill="#fff" fill-opacity=".88" stroke="#2f8f2f" stroke-width="1.6"/>
<circle cx="700.3" cy="1376.0" r="8.3" fill="#fff" fill-opacity=".88" stroke="#2f8f2f" stroke-width="1.6"/>
<circle cx="757.8" cy="1358.9" r="8.3" fill="#fff" fill-opacity=".88" stroke="#2f8f2f" stroke-width="1.6"/>
<circle cx="722.3" cy="1396.8" r="8.3" fill="#fff" fill-opacity=".88" stroke="#2f8f2f" stroke-width="1.6"/>
<circle cx="786.5" cy="1347.6" r="8.3" fill="#fff" fill-opacity=".88" stroke="#2f8f2f" stroke-width="1.6"/>
<circle cx="705.8" cy="1322.3" r="8.3" fill="#fff" fill-opacity=".88" stroke="#2f8f2f" stroke-width="1.6"/>
<circle cx="730.3" cy="1375.6" r="8.3" fill="#fff" fill-opacity=".88" stroke="#2f8f2f" stroke-width="1.6"/>
<circle cx="741.1" cy="1381.7" r="8.3" fill="#2f8f2f" fill-opacity=".88" stroke="#2f8f2f" stroke-width="1.6"/>
<circle cx="680.5" cy="1390.0" r="8.3" fill="#fff" fill-opacity=".88" stroke="#2f8f2f" stroke-width="1.6"/>
<circle cx="685.5" cy="1351.2" r="8.3" fill="#fff" fill-opacity=".88" stroke="#2f8f2f" stroke-width="1.6"/>
<circle cx="648.4" cy="1380.4" r="8.3" fill="#fff" fill-opacity=".88" stroke="#2f8f2f" stroke-width="1.6"/>
<circle cx="712.7" cy="1388.2" r="8.3" fill="#fff" fill-opacity=".88" stroke="#2f8f2f" stroke-width="1.6"/>
<circle cx="718.1" cy="1361.2" r="8.3" fill="#fff" fill-opacity=".88" stroke="#2f8f2f" stroke-width="1.6"/>
<circle cx="651.0" cy="1375.4" r="8.3" fill="#fff" fill-opacity=".88" stroke="#2f8f2f" stroke-width="1.6"/>
<circle cx="703.0" cy="1392.3" r="8.3" fill="#fff" fill-opacity=".88" stroke="#2f8f2f" stroke-width="1.6"/>
<circle cx="790.9" cy="1390.0" r="8.3" fill="#fff" fill-opacity=".88" stroke="#2f8f2f" stroke-width="1.6"/>
<circle cx="693.5" cy="1405.0" r="8.3" fill="#fff" fill-opacity=".88" stroke="#2f8f2f" stroke-width="1.6"/>
<circle cx="638.0" cy="1330.0" r="8.3" fill="#fff" fill-opacity=".88" stroke="#2f8f2f" stroke-width="1.6"/>
<circle cx="667.8" cy="1389.1" r="8.3" fill="#fff" fill-opacity=".88" stroke="#2f8f2f" stroke-width="1.6"/>
<circle cx="707.5" cy="1367.9" r="8.3" fill="#2f8f2f" fill-opacity=".88" stroke="#2f8f2f" stroke-width="1.6"/>
<circle cx="708.9" cy="1347.0" r="8.3" fill="#fff" fill-opacity=".88" stroke="#2f8f2f" stroke-width="1.6"/>
<circle cx="729.0" cy="1394.9" r="8.3" fill="#fff" fill-opacity=".88" stroke="#2f8f2f" stroke-width="1.6"/>
<circle cx="736.9" cy="1358.1" r="8.3" fill="#fff" fill-opacity=".88" stroke="#2f8f2f" stroke-width="1.6"/>
<circle cx="769.0" cy="1404.3" r="8.3" fill="#fff" fill-opacity=".88" stroke="#2f8f2f" stroke-width="1.6"/>
<circle cx="766.5" cy="1383.2" r="8.3" fill="#fff" fill-opacity=".88" stroke="#2f8f2f" stroke-width="1.6"/>
<circle cx="806.1" cy="1362.4" r="8.3" fill="#2f8f2f" fill-opacity=".88" stroke="#2f8f2f" stroke-width="1.6"/>
<circle cx="711.1" cy="1397.2" r="8.3" fill="#2f8f2f" fill-opacity=".88" stroke="#2f8f2f" stroke-width="1.6"/>
<circle cx="766.7" cy="1332.1" r="8.3" fill="#fff" fill-opacity=".88" stroke="#2f8f2f" stroke-width="1.6"/>
<circle cx="713.4" cy="1346.2" r="8.3" fill="#2f8f2f" fill-opacity=".88" stroke="#2f8f2f" stroke-width="1.6"/>
<circle cx="697.3" cy="1385.6" r="8.3" fill="#fff" fill-opacity=".88" stroke="#2f8f2f" stroke-width="1.6"/>
<circle cx="763.5" cy="1381.7" r="8.3" fill="#fff" fill-opacity=".88" stroke="#2f8f2f" stroke-width="1.6"/>
<circle cx="721.2" cy="1401.0" r="8.3" fill="#fff" fill-opacity=".88" stroke="#2f8f2f" stroke-width="1.6"/>
<circle cx="668.2" cy="1400.5" r="8.3" fill="#fff" fill-opacity=".88" stroke="#2f8f2f" stroke-width="1.6"/>
<circle cx="787.7" cy="1385.4" r="8.3" fill="#fff" fill-opacity=".88" stroke="#2f8f2f" stroke-width="1.6"/>
<circle cx="635.0" cy="1350.0" r="8.3" fill="#fff" fill-opacity=".88" stroke="#2f8f2f" stroke-width="1.6"/>
<circle cx="706.8" cy="1379.7" r="8.3" fill="#fff" fill-opacity=".88" stroke="#2f8f2f" stroke-width="1.6"/>
<circle cx="786.3" cy="1406.4" r="8.3" fill="#fff" fill-opacity=".88" stroke="#2f8f2f" stroke-width="1.6"/>
<circle cx="787.2" cy="1346.2" r="8.3" fill="#fff" fill-opacity=".88" stroke="#2f8f2f" stroke-width="1.6"/>
<circle cx="747.9" cy="1381.5" r="8.3" fill="#fff" fill-opacity=".88" stroke="#2f8f2f" stroke-width="1.6"/>
<circle cx="762.9" cy="1391.2" r="8.3" fill="#fff" fill-opacity=".88" stroke="#2f8f2f" stroke-width="1.6"/>
<circle cx="661.3" cy="1367.0" r="8.3" fill="#fff" fill-opacity=".88" stroke="#2f8f2f" stroke-width="1.6"/>
<circle cx="685.1" cy="1317.8" r="8.3" fill="#fff" fill-opacity=".88" stroke="#2f8f2f" stroke-width="1.6"/>
<circle cx="789.8" cy="1351.3" r="8.3" fill="#2f8f2f" fill-opacity=".88" stroke="#2f8f2f" stroke-width="1.6"/>
<circle cx="657.2" cy="1403.3" r="8.3" fill="#fff" fill-opacity=".88" stroke="#2f8f2f" stroke-width="1.6"/>
<circle cx="747.1" cy="1351.3" r="8.3" fill="#fff" fill-opacity=".88" stroke="#2f8f2f" stroke-width="1.6"/>
<circle cx="676.8" cy="1394.5" r="8.3" fill="#fff" fill-opacity=".88" stroke="#2f8f2f" stroke-width="1.6"/>
<circle cx="676.0" cy="1374.0" r="8.3" fill="#fff" fill-opacity=".88" stroke="#2f8f2f" stroke-width="1.6"/>
<circle cx="694.9" cy="1345.5" r="8.3" fill="#fff" fill-opacity=".88" stroke="#2f8f2f" stroke-width="1.6"/>
<circle cx="741.0" cy="1337.8" r="8.3" fill="#fff" fill-opacity=".88" stroke="#2f8f2f" stroke-width="1.6"/>
<circle cx="806.5" cy="1370.0" r="8.3" fill="#fff" fill-opacity=".88" stroke="#2f8f2f" stroke-width="1.6"/>
<circle cx="679.2" cy="1374.9" r="8.3" fill="#2f8f2f" fill-opacity=".88" stroke="#2f8f2f" stroke-width="1.6"/>
<circle cx="701.3" cy="1388.1" r="8.3" fill="#fff" fill-opacity=".88" stroke="#2f8f2f" stroke-width="1.6"/>
<circle cx="677.2" cy="1392.9" r="8.3" fill="#fff" fill-opacity=".88" stroke="#2f8f2f" stroke-width="1.6"/>
<circle cx="711.1" cy="1402.4" r="8.3" fill="#fff" fill-opacity=".88" stroke="#2f8f2f" stroke-width="1.6"/>
<circle cx="747.5" cy="1399.9" r="8.3" fill="#fff" fill-opacity=".88" stroke="#2f8f2f" stroke-width="1.6"/>
<circle cx="755.8" cy="1379.3" r="8.3" fill="#2f8f2f" fill-opacity=".88" stroke="#2f8f2f" stroke-width="1.6"/>
<circle cx="657.3" cy="1373.6" r="8.3" fill="#fff" fill-opacity=".88" stroke="#2f8f2f" stroke-width="1.6"/>
<circle cx="685.2" cy="1313.9" r="8.3" fill="#2f8f2f" fill-opacity=".88" stroke="#2f8f2f" stroke-width="1.6"/>
<circle cx="754.8" cy="1382.3" r="8.3" fill="#2f8f2f" fill-opacity=".88" stroke="#2f8f2f" stroke-width="1.6"/>
<circle cx="768.9" cy="1384.3" r="8.3" fill="#fff" fill-opacity=".88" stroke="#2f8f2f" stroke-width="1.6"/>
<circle cx="775.3" cy="1369.9" r="8.3" fill="#fff" fill-opacity=".88" stroke="#2f8f2f" stroke-width="1.6"/>
<circle cx="802.5" cy="1393.8" r="8.3" fill="#fff" fill-opacity=".88" stroke="#2f8f2f" stroke-width="1.6"/>
<circle cx="786.8" cy="1349.9" r="8.3" fill="#fff" fill-opacity=".88" stroke="#2f8f2f" stroke-width="1.6"/>
<circle cx="717.4" cy="1394.6" r="8.3" fill="#fff" fill-opacity=".88" stroke="#2f8f2f" stroke-width="1.6"/>
<circle cx="726.2" cy="1391.3" r="8.3" fill="#2f8f2f" fill-opacity=".88" stroke="#2f8f2f" stroke-width="1.6"/>
<circle cx="752.4" cy="1370.7" r="8.3" fill="#fff" fill-opacity=".88" stroke="#2f8f2f" stroke-width="1.6"/>
<circle cx="701.0" cy="1394.1" r="8.3" fill="#fff" fill-opacity=".88" stroke="#2f8f2f" stroke-width="1.6"/>
<circle cx="701.7" cy="1408.7" r="8.3" fill="#fff" fill-opacity=".88" stroke="#2f8f2f" stroke-width="1.6"/>
<circle cx="673.2" cy="1371.1" r="8.3" fill="#fff" fill-opacity=".88" stroke="#2f8f2f" stroke-width="1.6"/>
<circle cx="673.5" cy="1386.3" r="8.3" fill="#fff" fill-opacity=".88" stroke="#2f8f2f" stroke-width="1.6"/>
<circle cx="688.5" cy="1377.9" r="8.3" fill="#fff" fill-opacity=".88" stroke="#2f8f2f" stroke-width="1.6"/>
<circle cx="634.1" cy="1320.0" r="8.3" fill="#fff" fill-opacity=".88" stroke="#2f8f2f" stroke-width="1.6"/>
<circle cx="718.3" cy="1353.0" r="8.3" fill="#fff" fill-opacity=".88" stroke="#2f8f2f" stroke-width="1.6"/>
<circle cx="704.5" cy="1372.1" r="8.3" fill="#fff" fill-opacity=".88" stroke="#2f8f2f" stroke-width="1.6"/>
<circle cx="709.5" cy="1356.7" r="8.3" fill="#fff" fill-opacity=".88" stroke="#2f8f2f" stroke-width="1.6"/>
<circle cx="704.4" cy="1345.4" r="8.3" fill="#fff" fill-opacity=".88" stroke="#2f8f2f" stroke-width="1.6"/>
<circle cx="683.2" cy="1402.2" r="8.3" fill="#fff" fill-opacity=".88" stroke="#2f8f2f" stroke-width="1.6"/>
<circle cx="752.9" cy="1392.2" r="8.3" fill="#fff" fill-opacity=".88" stroke="#2f8f2f" stroke-width="1.6"/>
<circle cx="717.8" cy="1393.4" r="8.3" fill="#fff" fill-opacity=".88" stroke="#2f8f2f" stroke-width="1.6"/>
<circle cx="740.1" cy="1383.1" r="8.3" fill="#fff" fill-opacity=".88" stroke="#2f8f2f" stroke-width="1.6"/>
<circle cx="689.3" cy="1400.0" r="8.3" fill="#fff" fill-opacity=".88" stroke="#2f8f2f" stroke-width="1.6"/>
<circle cx="791.7" cy="1356.2" r="8.3" fill="#fff" fill-opacity=".88" stroke="#2f8f2f" stroke-width="1.6"/>
<circle cx="761.8" cy="1392.2" r="8.3" fill="#fff" fill-opacity=".88" stroke="#2f8f2f" stroke-width="1.6"/>
<circle cx="734.9" cy="1381.0" r="8.3" fill="#fff" fill-opacity=".88" stroke="#2f8f2f" stroke-width="1.6"/>
<circle cx="692.4" cy="1380.5" r="8.3" fill="#fff" fill-opacity=".88" stroke="#2f8f2f" stroke-width="1.6"/>
<circle cx="728.6" cy="1398.2" r="8.3" fill="#2f8f2f" fill-opacity=".88" stroke="#2f8f2f" stroke-width="1.6"/>
<circle cx="661.9" cy="1365.2" r="8.3" fill="#fff" fill-opacity=".88" stroke="#2f8f2f" stroke-width="1.6"/>
<circle cx="809.8" cy="1388.4" r="8.3" fill="#fff" fill-opacity=".88" stroke="#2f8f2f" stroke-width="1.6"/>
<circle cx="668.1" cy="1384.2" r="8.3" fill="#fff" fill-opacity=".88" stroke="#2f8f2f" stroke-width="1.6"/>
<circle cx="703.2" cy="1381.9" r="8.3" fill="#2f8f2f" fill-opacity=".88" stroke="#2f8f2f" stroke-width="1.6"/>
<circle cx="749.4" cy="1388.5" r="8.3" fill="#fff" fill-opacity=".88" stroke="#2f8f2f" stroke-width="1.6"/>
<circle cx="786.8" cy="1395.6" r="8.3" fill="#fff" fill-opacity=".88" stroke="#2f8f2f" stroke-width="1.6"/>
<circle cx="769.3" cy="1381.8" r="8.3" fill="#fff" fill-opacity=".88" stroke="#2f8f2f" stroke-width="1.6"/>
<circle cx="713.2" cy="1368.7" r="8.3" fill="#fff" fill-opacity=".88" stroke="#2f8f2f" stroke-width="1.6"/>
<circle cx="809.9" cy="1405.8" r="8.3" fill="#fff" fill-opacity=".88" stroke="#2f8f2f" stroke-width="1.6"/>
<circle cx="649.7" cy="1354.5" r="8.3" fill="#fff" fill-opacity=".88" stroke="#2f8f2f" stroke-width="1.6"/>
<circle cx="790.4" cy="1406.0" r="8.3" fill="#fff" fill-opacity=".88" stroke="#2f8f2f" stroke-width="1.6"/>
<circle cx="727.0" cy="1375.0" r="8.3" fill="#fff" fill-opacity=".88" stroke="#2f8f2f" stroke-width="1.6"/>
<circle cx="749.5" cy="1361.4" r="8.3" fill="#fff" fill-opacity=".88" stroke="#2f8f2f" stroke-width="1.6"/>
<circle cx="750.6" cy="1403.3" r="8.3" fill="#fff" fill-opacity=".88" stroke="#2f8f2f" stroke-width="1.6"/>
<circle cx="747.8" cy="1407.0" r="8.3" fill="#fff" fill-opacity=".88" stroke="#2f8f2f" stroke-width="1.6"/>
<circle cx="669.3" cy="1392.4" r="8.3" fill="#fff" fill-opacity=".88" stroke="#2f8f2f" stroke-width="1.6"/>
<circle cx="696.8" cy="1408.2" r="8.3" fill="#fff" fill-opacity=".88" stroke="#2f8f2f" stroke-width="1.6"/>
<circle cx="758.0" cy="1394.9" r="8.3" fill="#fff" fill-opacity=".88" stroke="#2f8f2f" stroke-width="1.6"/>
<circle cx="701.6" cy="1366.7" r="8.3" fill="#fff" fill-opacity=".88" stroke="#2f8f2f" stroke-width="1.6"/>
<circle cx="694.6" cy="1397.8" r="8.3" fill="#2f8f2f" fill-opacity=".88" stroke="#2f8f2f" stroke-width="1.6"/>
<circle cx="755.7" cy="1345.6" r="8.3" fill="#fff" fill-opacity=".88" stroke="#2f8f2f" stroke-width="1.6"/>
<circle cx="744.4" cy="1376.3" r="8.3" fill="#fff" fill-opacity=".88" stroke="#2f8f2f" stroke-width="1.6"/>
<circle cx="683.9" cy="1351.6" r="8.3" fill="#2f8f2f" fill-opacity=".88" stroke="#2f8f2f" stroke-width="1.6"/>
<circle cx="702.4" cy="1384.1" r="8.3" fill="#fff" fill-opacity=".88" stroke="#2f8f2f" stroke-width="1.6"/>
<circle cx="680.7" cy="1395.7" r="8.3" fill="#fff" fill-opacity=".88" stroke="#2f8f2f" stroke-width="1.6"/>
<circle cx="711.4" cy="1388.4" r="8.3" fill="#fff" fill-opacity=".88" stroke="#2f8f2f" stroke-width="1.6"/>
<circle cx="728.7" cy="1307.7" r="8.3" fill="#fff" fill-opacity=".88" stroke="#2f8f2f" stroke-width="1.6"/>
<circle cx="762.4" cy="1399.5" r="8.3" fill="#fff" fill-opacity=".88" stroke="#2f8f2f" stroke-width="1.6"/>
<circle cx="701.6" cy="1384.1" r="8.3" fill="#2f8f2f" fill-opacity=".88" stroke="#2f8f2f" stroke-width="1.6"/>
<circle cx="726.4" cy="1363.4" r="8.3" fill="#fff" fill-opacity=".88" stroke="#2f8f2f" stroke-width="1.6"/>
<circle cx="709.3" cy="1368.1" r="8.3" fill="#fff" fill-opacity=".88" stroke="#2f8f2f" stroke-width="1.6"/>
<circle cx="718.6" cy="1329.7" r="8.3" fill="#fff" fill-opacity=".88" stroke="#2f8f2f" stroke-width="1.6"/>
<circle cx="690.6" cy="1350.9" r="8.3" fill="#fff" fill-opacity=".88" stroke="#2f8f2f" stroke-width="1.6"/>
<circle cx="645.2" cy="1397.8" r="8.3" fill="#fff" fill-opacity=".88" stroke="#2f8f2f" stroke-width="1.6"/>
<circle cx="676.2" cy="1377.1" r="8.3" fill="#2f8f2f" fill-opacity=".88" stroke="#2f8f2f" stroke-width="1.6"/>
<circle cx="746.7" cy="1372.5" r="8.3" fill="#fff" fill-opacity=".88" stroke="#2f8f2f" stroke-width="1.6"/>
<circle cx="644.5" cy="1368.5" r="8.3" fill="#fff" fill-opacity=".88" stroke="#2f8f2f" stroke-width="1.6"/>
<circle cx="789.1" cy="1368.2" r="8.3" fill="#fff" fill-opacity=".88" stroke="#2f8f2f" stroke-width="1.6"/>
<circle cx="637.5" cy="1335.0" r="8.3" fill="#fff" fill-opacity=".88" stroke="#2f8f2f" stroke-width="1.6"/>
<circle cx="669.7" cy="1388.9" r="8.3" fill="#fff" fill-opacity=".88" stroke="#2f8f2f" stroke-width="1.6"/>
<circle cx="640.4" cy="1397.1" r="8.3" fill="#fff" fill-opacity=".88" stroke="#2f8f2f" stroke-width="1.6"/>
<circle cx="699.8" cy="1384.1" r="8.3" fill="#fff" fill-opacity=".88" stroke="#2f8f2f" stroke-width="1.6"/>
<circle cx="650.8" cy="1401.2" r="8.3" fill="#fff" fill-opacity=".88" stroke="#2f8f2f" stroke-width="1.6"/>
<circle cx="634.2" cy="1390.0" r="8.3" fill="#fff" fill-opacity=".88" stroke="#2f8f2f" stroke-width="1.6"/>
<circle cx="652.9" cy="1393.1" r="8.3" fill="#2f8f2f" fill-opacity=".88" stroke="#2f8f2f" stroke-width="1.6"/>
<circle cx="692.5" cy="1393.3" r="8.3" fill="#fff" fill-opacity=".88" stroke="#2f8f2f" stroke-width="1.6"/>
<circle cx="735.7" cy="1398.8" r="8.3" fill="#fff" fill-opacity=".88" stroke="#2f8f2f" stroke-width="1.6"/>
<circle cx="775.9" cy="1384.0" r="8.3" fill="#fff" fill-opacity=".88" stroke="#2f8f2f" stroke-width="1.6"/>
<circle cx="698.4" cy="1359.9" r="8.3" fill="#fff" fill-opacity=".88" stroke="#2f8f2f" stroke-width="1.6"/>
<circle cx="762.3" cy="1390.0" r="8.3" fill="#2f8f2f" fill-opacity=".88" stroke="#2f8f2f" stroke-width="1.6"/>
<circle cx="707.7" cy="1396.9" r="8.3" fill="#fff" fill-opacity=".88" stroke="#2f8f2f" stroke-width="1.6"/>
<circle cx="779.1" cy="1393.3" r="8.3" fill="#fff" fill-opacity=".88" stroke="#2f8f2f" stroke-width="1.6"/>
<circle cx="682.9" cy="1400.6" r="8.3" fill="#fff" fill-opacity=".88" stroke="#2f8f2f" stroke-width="1.6"/>
<circle cx="792.5" cy="1378.6" r="8.3" fill="#fff" fill-opacity=".88" stroke="#2f8f2f" stroke-width="1.6"/>
<circle cx="756.7" cy="1355.0" r="8.3" fill="#fff" fill-opacity=".88" stroke="#2f8f2f" stroke-width="1.6"/>
<circle cx="717.5" cy="1396.6" r="8.3" fill="#fff" fill-opacity=".88" stroke="#2f8f2f" stroke-width="1.6"/>
<circle cx="791.6" cy="1362.7" r="8.3" fill="#fff" fill-opacity=".88" stroke="#2f8f2f" stroke-width="1.6"/>
<circle cx="635.0" cy="1385.0" r="8.3" fill="#fff" fill-opacity=".88" stroke="#2f8f2f" stroke-width="1.6"/>
<circle cx="660.3" cy="1401.5" r="8.3" fill="#fff" fill-opacity=".88" stroke="#2f8f2f" stroke-width="1.6"/>
<circle cx="712.8" cy="1364.7" r="8.3" fill="#fff" fill-opacity=".88" stroke="#2f8f2f" stroke-width="1.6"/>
<circle cx="795.7" cy="1400.6" r="8.3" fill="#2f8f2f" fill-opacity=".88" stroke="#2f8f2f" stroke-width="1.6"/>
<circle cx="797.4" cy="1373.5" r="8.3" fill="#2f8f2f" fill-opacity=".88" stroke="#2f8f2f" stroke-width="1.6"/>
<circle cx="750.5" cy="1351.0" r="8.3" fill="#fff" fill-opacity=".88" stroke="#2f8f2f" stroke-width="1.6"/>
<circle cx="649.3" cy="1380.0" r="8.3" fill="#fff" fill-opacity=".88" stroke="#2f8f2f" stroke-width="1.6"/>
<circle cx="719.9" cy="1381.6" r="8.3" fill="#fff" fill-opacity=".88" stroke="#2f8f2f" stroke-width="1.6"/>
<circle cx="798.7" cy="1351.5" r="8.3" fill="#fff" fill-opacity=".88" stroke="#2f8f2f" stroke-width="1.6"/>
<circle cx="773.0" cy="1376.0" r="8.3" fill="#2f8f2f" fill-opacity=".88" stroke="#2f8f2f" stroke-width="1.6"/>
<circle cx="675.8" cy="1365.9" r="8.3" fill="#fff" fill-opacity=".88" stroke="#2f8f2f" stroke-width="1.6"/>
<circle cx="761.7" cy="1388.2" r="8.3" fill="#fff" fill-opacity=".88" stroke="#2f8f2f" stroke-width="1.6"/>
<circle cx="649.4" cy="1374.8" r="8.3" fill="#fff" fill-opacity=".88" stroke="#2f8f2f" stroke-width="1.6"/>
<circle cx="660.9" cy="1374.3" r="8.3" fill="#fff" fill-opacity=".88" stroke="#b53a3a" stroke-width="1.6"/>
<circle cx="687.2" cy="1390.8" r="8.3" fill="#fff" fill-opacity=".88" stroke="#b53a3a" stroke-width="1.6"/>
<circle cx="673.2" cy="1383.5" r="8.3" fill="#fff" fill-opacity=".88" stroke="#b53a3a" stroke-width="1.6"/>
<circle cx="759.3" cy="1381.0" r="8.3" fill="#fff" fill-opacity=".88" stroke="#b53a3a" stroke-width="1.6"/>
<circle cx="675.5" cy="1380.3" r="8.3" fill="#b53a3a" fill-opacity=".88" stroke="#b53a3a" stroke-width="1.6"/>
<circle cx="653.9" cy="1399.4" r="8.3" fill="#fff" fill-opacity=".88" stroke="#b53a3a" stroke-width="1.6"/>
<circle cx="660.5" cy="1367.9" r="8.3" fill="#fff" fill-opacity=".88" stroke="#b53a3a" stroke-width="1.6"/>
<circle cx="653.8" cy="1372.8" r="8.3" fill="#fff" fill-opacity=".88" stroke="#b53a3a" stroke-width="1.6"/>
<circle cx="655.1" cy="1395.7" r="8.3" fill="#fff" fill-opacity=".88" stroke="#b53a3a" stroke-width="1.6"/>
<circle cx="672.8" cy="1400.0" r="8.3" fill="#fff" fill-opacity=".88" stroke="#b53a3a" stroke-width="1.6"/>
<circle cx="655.3" cy="1376.2" r="8.3" fill="#b53a3a" fill-opacity=".88" stroke="#b53a3a" stroke-width="1.6"/>
<circle cx="642.5" cy="1372.5" r="8.3" fill="#b53a3a" fill-opacity=".88" stroke="#b53a3a" stroke-width="1.6"/>
<circle cx="807.7" cy="1395.7" r="8.3" fill="#fff" fill-opacity=".88" stroke="#2f8f2f" stroke-width="1.6"/>
<circle cx="712.3" cy="1400.9" r="8.3" fill="#b53a3a" fill-opacity=".88" stroke="#b53a3a" stroke-width="1.6"/>
<circle cx="659.0" cy="1374.0" r="8.3" fill="#fff" fill-opacity=".88" stroke="#b53a3a" stroke-width="1.6"/>
<circle cx="700.4" cy="1399.5" r="8.3" fill="#fff" fill-opacity=".88" stroke="#b53a3a" stroke-width="1.6"/>
<circle cx="680.5" cy="1397.7" r="8.3" fill="#b53a3a" fill-opacity=".88" stroke="#b53a3a" stroke-width="1.6"/>
<circle cx="664.9" cy="1381.4" r="8.3" fill="#fff" fill-opacity=".88" stroke="#b53a3a" stroke-width="1.6"/>
<circle cx="698.0" cy="1375.1" r="8.3" fill="#fff" fill-opacity=".88" stroke="#b53a3a" stroke-width="1.6"/>
<circle cx="667.0" cy="1377.3" r="8.3" fill="#fff" fill-opacity=".88" stroke="#b53a3a" stroke-width="1.6"/>
<circle cx="742.3" cy="1392.3" r="8.3" fill="#b53a3a" fill-opacity=".88" stroke="#b53a3a" stroke-width="1.6"/>
<circle cx="680.1" cy="1391.3" r="8.3" fill="#fff" fill-opacity=".88" stroke="#b53a3a" stroke-width="1.6"/>
<circle cx="691.7" cy="1364.1" r="8.3" fill="#fff" fill-opacity=".88" stroke="#b53a3a" stroke-width="1.6"/>
<circle cx="673.0" cy="1395.4" r="8.3" fill="#fff" fill-opacity=".88" stroke="#b53a3a" stroke-width="1.6"/>
<circle cx="691.0" cy="1354.0" r="8.3" fill="#fff" fill-opacity=".88" stroke="#b53a3a" stroke-width="1.6"/>
<circle cx="684.8" cy="1371.4" r="8.3" fill="#fff" fill-opacity=".88" stroke="#b53a3a" stroke-width="1.6"/>
<circle cx="644.0" cy="1399.4" r="8.3" fill="#fff" fill-opacity=".88" stroke="#b53a3a" stroke-width="1.6"/>
<circle cx="652.6" cy="1394.3" r="8.3" fill="#fff" fill-opacity=".88" stroke="#b53a3a" stroke-width="1.6"/>
<circle cx="694.6" cy="1378.3" r="8.3" fill="#b53a3a" fill-opacity=".88" stroke="#b53a3a" stroke-width="1.6"/>
<circle cx="657.9" cy="1383.4" r="8.3" fill="#fff" fill-opacity=".88" stroke="#b53a3a" stroke-width="1.6"/>
<circle cx="664.9" cy="1395.1" r="8.3" fill="#fff" fill-opacity=".88" stroke="#b53a3a" stroke-width="1.6"/>
<circle cx="650.5" cy="1361.3" r="8.3" fill="#fff" fill-opacity=".88" stroke="#b53a3a" stroke-width="1.6"/>
<circle cx="651.8" cy="1388.6" r="8.3" fill="#fff" fill-opacity=".88" stroke="#b53a3a" stroke-width="1.6"/>
<circle cx="718.3" cy="1401.9" r="8.3" fill="#b53a3a" fill-opacity=".88" stroke="#b53a3a" stroke-width="1.6"/>
<circle cx="682.5" cy="1370.6" r="8.3" fill="#fff" fill-opacity=".88" stroke="#b53a3a" stroke-width="1.6"/>
<circle cx="682.7" cy="1371.3" r="8.3" fill="#fff" fill-opacity=".88" stroke="#b53a3a" stroke-width="1.6"/>
<circle cx="709.1" cy="1384.2" r="8.3" fill="#fff" fill-opacity=".88" stroke="#b53a3a" stroke-width="1.6"/>
<circle cx="693.6" cy="1333.3" r="8.3" fill="#fff" fill-opacity=".88" stroke="#b53a3a" stroke-width="1.6"/>
<circle cx="682.3" cy="1375.2" r="8.3" fill="#fff" fill-opacity=".88" stroke="#b53a3a" stroke-width="1.6"/>
<circle cx="639.6" cy="1393.1" r="8.3" fill="#fff" fill-opacity=".88" stroke="#b53a3a" stroke-width="1.6"/>
<circle cx="698.2" cy="1350.6" r="8.3" fill="#fff" fill-opacity=".88" stroke="#b53a3a" stroke-width="1.6"/>
<circle cx="669.0" cy="1382.4" r="8.3" fill="#fff" fill-opacity=".88" stroke="#b53a3a" stroke-width="1.6"/>
<circle cx="697.6" cy="1385.6" r="8.3" fill="#fff" fill-opacity=".88" stroke="#b53a3a" stroke-width="1.6"/>
<circle cx="738.0" cy="1326.8" r="8.3" fill="#fff" fill-opacity=".88" stroke="#b53a3a" stroke-width="1.6"/>
<circle cx="686.3" cy="1401.1" r="8.3" fill="#b53a3a" fill-opacity=".88" stroke="#b53a3a" stroke-width="1.6"/>
<circle cx="683.3" cy="1396.4" r="8.3" fill="#fff" fill-opacity=".88" stroke="#b53a3a" stroke-width="1.6"/>
<circle cx="661.3" cy="1359.7" r="8.3" fill="#fff" fill-opacity=".88" stroke="#b53a3a" stroke-width="1.6"/>
<circle cx="743.8" cy="1337.5" r="8.3" fill="#b53a3a" fill-opacity=".88" stroke="#b53a3a" stroke-width="1.6"/>
<circle cx="684.1" cy="1363.0" r="8.3" fill="#fff" fill-opacity=".88" stroke="#b53a3a" stroke-width="1.6"/>
<circle cx="680.5" cy="1364.0" r="8.3" fill="#fff" fill-opacity=".88" stroke="#b53a3a" stroke-width="1.6"/>
<circle cx="719.7" cy="1364.2" r="8.3" fill="#fff" fill-opacity=".88" stroke="#b53a3a" stroke-width="1.6"/>
<circle cx="703.1" cy="1393.3" r="8.3" fill="#fff" fill-opacity=".88" stroke="#b53a3a" stroke-width="1.6"/>
<circle cx="672.9" cy="1347.2" r="8.3" fill="#fff" fill-opacity=".88" stroke="#b53a3a" stroke-width="1.6"/>
<circle cx="671.3" cy="1353.9" r="8.3" fill="#fff" fill-opacity=".88" stroke="#b53a3a" stroke-width="1.6"/>
<circle cx="676.2" cy="1398.6" r="8.3" fill="#b53a3a" fill-opacity=".88" stroke="#b53a3a" stroke-width="1.6"/>
<circle cx="666.0" cy="1401.9" r="8.3" fill="#fff" fill-opacity=".88" stroke="#b53a3a" stroke-width="1.6"/>
<circle cx="678.9" cy="1387.2" r="8.3" fill="#b53a3a" fill-opacity=".88" stroke="#b53a3a" stroke-width="1.6"/>
<circle cx="675.1" cy="1361.0" r="8.3" fill="#fff" fill-opacity=".88" stroke="#b53a3a" stroke-width="1.6"/>
<circle cx="679.9" cy="1393.7" r="8.3" fill="#fff" fill-opacity=".88" stroke="#b53a3a" stroke-width="1.6"/>
<circle cx="701.5" cy="1385.5" r="8.3" fill="#fff" fill-opacity=".88" stroke="#b53a3a" stroke-width="1.6"/>
<circle cx="673.1" cy="1362.6" r="8.3" fill="#b53a3a" fill-opacity=".88" stroke="#b53a3a" stroke-width="1.6"/>
<circle cx="792.7" cy="1393.0" r="8.3" fill="#2f8f2f" fill-opacity=".88" stroke="#2f8f2f" stroke-width="1.6"/>
<circle cx="697.4" cy="1341.2" r="8.3" fill="#b53a3a" fill-opacity=".88" stroke="#b53a3a" stroke-width="1.6"/>
<circle cx="652.3" cy="1382.6" r="8.3" fill="#fff" fill-opacity=".88" stroke="#b53a3a" stroke-width="1.6"/>
<circle cx="657.8" cy="1398.3" r="8.3" fill="#b53a3a" fill-opacity=".88" stroke="#b53a3a" stroke-width="1.6"/>
<circle cx="659.0" cy="1385.4" r="8.3" fill="#fff" fill-opacity=".88" stroke="#b53a3a" stroke-width="1.6"/>
<circle cx="685.1" cy="1346.9" r="8.3" fill="#fff" fill-opacity=".88" stroke="#b53a3a" stroke-width="1.6"/>
<circle cx="659.3" cy="1354.2" r="8.3" fill="#fff" fill-opacity=".88" stroke="#b53a3a" stroke-width="1.6"/>
<circle cx="695.4" cy="1394.3" r="8.3" fill="#b53a3a" fill-opacity=".88" stroke="#b53a3a" stroke-width="1.6"/>
<circle cx="702.7" cy="1380.7" r="8.3" fill="#fff" fill-opacity=".88" stroke="#b53a3a" stroke-width="1.6"/>
<circle cx="669.4" cy="1375.9" r="8.3" fill="#fff" fill-opacity=".88" stroke="#b53a3a" stroke-width="1.6"/>
<circle cx="650.9" cy="1374.8" r="8.3" fill="#fff" fill-opacity=".88" stroke="#b53a3a" stroke-width="1.6"/>
<circle cx="667.9" cy="1336.6" r="8.3" fill="#b53a3a" fill-opacity=".88" stroke="#b53a3a" stroke-width="1.6"/>
<circle cx="675.1" cy="1375.5" r="8.3" fill="#fff" fill-opacity=".88" stroke="#b53a3a" stroke-width="1.6"/>
<circle cx="656.1" cy="1385.1" r="8.3" fill="#fff" fill-opacity=".88" stroke="#b53a3a" stroke-width="1.6"/>
<circle cx="677.0" cy="1380.0" r="8.3" fill="#fff" fill-opacity=".88" stroke="#b53a3a" stroke-width="1.6"/>
<circle cx="759.1" cy="1393.3" r="8.3" fill="#b53a3a" fill-opacity=".88" stroke="#b53a3a" stroke-width="1.6"/>
<circle cx="695.1" cy="1380.3" r="8.3" fill="#fff" fill-opacity=".88" stroke="#b53a3a" stroke-width="1.6"/>
<circle cx="671.0" cy="1397.3" r="8.3" fill="#b53a3a" fill-opacity=".88" stroke="#b53a3a" stroke-width="1.6"/>
<circle cx="645.3" cy="1383.6" r="8.3" fill="#fff" fill-opacity=".88" stroke="#b53a3a" stroke-width="1.6"/>
<circle cx="737.6" cy="1374.5" r="8.3" fill="#fff" fill-opacity=".88" stroke="#b53a3a" stroke-width="1.6"/>
<circle cx="658.6" cy="1357.2" r="8.3" fill="#fff" fill-opacity=".88" stroke="#b53a3a" stroke-width="1.6"/>
<circle cx="648.3" cy="1363.5" r="8.3" fill="#fff" fill-opacity=".88" stroke="#b53a3a" stroke-width="1.6"/>
<circle cx="677.4" cy="1367.8" r="8.3" fill="#fff" fill-opacity=".88" stroke="#b53a3a" stroke-width="1.6"/>
<circle cx="682.1" cy="1390.5" r="8.3" fill="#fff" fill-opacity=".88" stroke="#b53a3a" stroke-width="1.6"/>
<circle cx="693.1" cy="1393.3" r="8.3" fill="#fff" fill-opacity=".88" stroke="#b53a3a" stroke-width="1.6"/>
<circle cx="688.6" cy="1357.6" r="8.3" fill="#fff" fill-opacity=".88" stroke="#b53a3a" stroke-width="1.6"/>
<circle cx="701.2" cy="1391.7" r="8.3" fill="#b53a3a" fill-opacity=".88" stroke="#b53a3a" stroke-width="1.6"/>
<circle cx="722.8" cy="1399.6" r="8.3" fill="#fff" fill-opacity=".88" stroke="#b53a3a" stroke-width="1.6"/>
<circle cx="720.5" cy="1388.8" r="8.3" fill="#b53a3a" fill-opacity=".88" stroke="#b53a3a" stroke-width="1.6"/>
<circle cx="733.2" cy="1368.1" r="8.3" fill="#fff" fill-opacity=".88" stroke="#b53a3a" stroke-width="1.6"/>
<circle cx="665.6" cy="1399.2" r="8.3" fill="#fff" fill-opacity=".88" stroke="#b53a3a" stroke-width="1.6"/>
<circle cx="643.8" cy="1391.2" r="8.3" fill="#fff" fill-opacity=".88" stroke="#b53a3a" stroke-width="1.6"/>
<circle cx="656.5" cy="1381.2" r="8.3" fill="#fff" fill-opacity=".88" stroke="#b53a3a" stroke-width="1.6"/>
<circle cx="669.2" cy="1346.1" r="8.3" fill="#fff" fill-opacity=".88" stroke="#b53a3a" stroke-width="1.6"/>
<circle cx="700.0" cy="1400.0" r="8.3" fill="#b53a3a" fill-opacity=".88" stroke="#b53a3a" stroke-width="1.6"/>
<circle cx="728.4" cy="1397.0" r="8.3" fill="#b53a3a" fill-opacity=".88" stroke="#b53a3a" stroke-width="1.6"/>
<circle cx="651.5" cy="1376.7" r="8.3" fill="#fff" fill-opacity=".88" stroke="#b53a3a" stroke-width="1.6"/>
<circle cx="642.0" cy="1358.2" r="8.3" fill="#fff" fill-opacity=".88" stroke="#b53a3a" stroke-width="1.6"/>
<circle cx="678.0" cy="1382.7" r="8.3" fill="#fff" fill-opacity=".88" stroke="#b53a3a" stroke-width="1.6"/>
<circle cx="673.5" cy="1386.2" r="8.3" fill="#fff" fill-opacity=".88" stroke="#b53a3a" stroke-width="1.6"/>
<circle cx="676.1" cy="1376.5" r="8.3" fill="#fff" fill-opacity=".88" stroke="#b53a3a" stroke-width="1.6"/>
<circle cx="680.7" cy="1335.2" r="8.3" fill="#fff" fill-opacity=".88" stroke="#b53a3a" stroke-width="1.6"/>
<circle cx="662.9" cy="1393.1" r="8.3" fill="#fff" fill-opacity=".88" stroke="#b53a3a" stroke-width="1.6"/>
<circle cx="690.5" cy="1392.0" r="8.3" fill="#fff" fill-opacity=".88" stroke="#b53a3a" stroke-width="1.6"/>
<circle cx="729.5" cy="1387.0" r="8.3" fill="#fff" fill-opacity=".88" stroke="#b53a3a" stroke-width="1.6"/>
<circle cx="678.8" cy="1397.5" r="8.3" fill="#fff" fill-opacity=".88" stroke="#b53a3a" stroke-width="1.6"/>
<circle cx="668.4" cy="1357.3" r="8.3" fill="#b53a3a" fill-opacity=".88" stroke="#b53a3a" stroke-width="1.6"/>
<circle cx="690.7" cy="1392.3" r="8.3" fill="#fff" fill-opacity=".88" stroke="#b53a3a" stroke-width="1.6"/>
<circle cx="674.0" cy="1371.5" r="8.3" fill="#b53a3a" fill-opacity=".88" stroke="#b53a3a" stroke-width="1.6"/>
<circle cx="683.6" cy="1341.1" r="8.3" fill="#b53a3a" fill-opacity=".88" stroke="#b53a3a" stroke-width="1.6"/>
<circle cx="666.7" cy="1374.0" r="8.3" fill="#b53a3a" fill-opacity=".88" stroke="#b53a3a" stroke-width="1.6"/>
<circle cx="676.9" cy="1379.0" r="8.3" fill="#fff" fill-opacity=".88" stroke="#b53a3a" stroke-width="1.6"/>
<circle cx="671.8" cy="1356.5" r="8.3" fill="#fff" fill-opacity=".88" stroke="#b53a3a" stroke-width="1.6"/>
<circle cx="665.6" cy="1389.6" r="8.3" fill="#fff" fill-opacity=".88" stroke="#b53a3a" stroke-width="1.6"/>
<circle cx="648.4" cy="1370.3" r="8.3" fill="#fff" fill-opacity=".88" stroke="#b53a3a" stroke-width="1.6"/>
<circle cx="654.7" cy="1364.8" r="8.3" fill="#fff" fill-opacity=".88" stroke="#b53a3a" stroke-width="1.6"/>
<circle cx="675.0" cy="1379.3" r="8.3" fill="#fff" fill-opacity=".88" stroke="#b53a3a" stroke-width="1.6"/>
<circle cx="768.8" cy="1393.5" r="8.3" fill="#fff" fill-opacity=".88" stroke="#b53a3a" stroke-width="1.6"/>
<circle cx="695.9" cy="1392.3" r="8.3" fill="#fff" fill-opacity=".88" stroke="#b53a3a" stroke-width="1.6"/>
<circle cx="783.0" cy="1399.2" r="8.3" fill="#b53a3a" fill-opacity=".88" stroke="#b53a3a" stroke-width="1.6"/>
<circle cx="653.1" cy="1384.8" r="8.3" fill="#fff" fill-opacity=".88" stroke="#b53a3a" stroke-width="1.6"/>
<circle cx="666.3" cy="1376.3" r="8.3" fill="#fff" fill-opacity=".88" stroke="#b53a3a" stroke-width="1.6"/>
<circle cx="648.6" cy="1364.9" r="8.3" fill="#fff" fill-opacity=".88" stroke="#b53a3a" stroke-width="1.6"/>
<circle cx="673.3" cy="1371.5" r="8.3" fill="#fff" fill-opacity=".88" stroke="#b53a3a" stroke-width="1.6"/>
<circle cx="671.4" cy="1379.3" r="8.3" fill="#b53a3a" fill-opacity=".88" stroke="#b53a3a" stroke-width="1.6"/>
<circle cx="653.4" cy="1379.1" r="8.3" fill="#fff" fill-opacity=".88" stroke="#b53a3a" stroke-width="1.6"/>
<circle cx="799.9" cy="1395.6" r="8.3" fill="#2f8f2f" fill-opacity=".88" stroke="#2f8f2f" stroke-width="1.6"/>
<circle cx="657.8" cy="1387.4" r="8.3" fill="#fff" fill-opacity=".88" stroke="#b53a3a" stroke-width="1.6"/>
<circle cx="667.3" cy="1384.6" r="8.3" fill="#fff" fill-opacity=".88" stroke="#b53a3a" stroke-width="1.6"/>
<circle cx="639.3" cy="1378.0" r="8.3" fill="#b53a3a" fill-opacity=".88" stroke="#b53a3a" stroke-width="1.6"/>
<circle cx="671.7" cy="1393.7" r="8.3" fill="#b53a3a" fill-opacity=".88" stroke="#b53a3a" stroke-width="1.6"/>
<circle cx="678.3" cy="1367.1" r="8.3" fill="#fff" fill-opacity=".88" stroke="#b53a3a" stroke-width="1.6"/>
<circle cx="652.8" cy="1384.1" r="8.3" fill="#fff" fill-opacity=".88" stroke="#b53a3a" stroke-width="1.6"/>
<circle cx="651.4" cy="1401.2" r="8.3" fill="#fff" fill-opacity=".88" stroke="#b53a3a" stroke-width="1.6"/>
<circle cx="704.3" cy="1388.6" r="8.3" fill="#fff" fill-opacity=".88" stroke="#b53a3a" stroke-width="1.6"/>
<circle cx="727.3" cy="1395.3" r="8.3" fill="#fff" fill-opacity=".88" stroke="#b53a3a" stroke-width="1.6"/>
<circle cx="661.7" cy="1333.4" r="8.3" fill="#fff" fill-opacity=".88" stroke="#b53a3a" stroke-width="1.6"/>
<circle cx="774.7" cy="1400.8" r="8.3" fill="#b53a3a" fill-opacity=".88" stroke="#b53a3a" stroke-width="1.6"/>
<circle cx="704.5" cy="1386.5" r="8.3" fill="#b53a3a" fill-opacity=".88" stroke="#b53a3a" stroke-width="1.6"/>
<circle cx="654.2" cy="1341.5" r="8.3" fill="#fff" fill-opacity=".88" stroke="#b53a3a" stroke-width="1.6"/>
<circle cx="743.0" cy="1398.1" r="8.3" fill="#b53a3a" fill-opacity=".88" stroke="#b53a3a" stroke-width="1.6"/>
<circle cx="735.7" cy="1367.8" r="8.3" fill="#fff" fill-opacity=".88" stroke="#b53a3a" stroke-width="1.6"/>
<circle cx="667.4" cy="1396.7" r="8.3" fill="#fff" fill-opacity=".88" stroke="#b53a3a" stroke-width="1.6"/>
<circle cx="670.2" cy="1376.5" r="8.3" fill="#fff" fill-opacity=".88" stroke="#b53a3a" stroke-width="1.6"/>
<circle cx="649.1" cy="1399.5" r="8.3" fill="#fff" fill-opacity=".88" stroke="#b53a3a" stroke-width="1.6"/>
<circle cx="672.9" cy="1394.6" r="8.3" fill="#fff" fill-opacity=".88" stroke="#b53a3a" stroke-width="1.6"/>
<circle cx="684.5" cy="1377.1" r="8.3" fill="#fff" fill-opacity=".88" stroke="#b53a3a" stroke-width="1.6"/>
<circle cx="668.0" cy="1322.0" r="8.3" fill="#b53a3a" fill-opacity=".88" stroke="#b53a3a" stroke-width="1.6"/>
<circle cx="663.2" cy="1380.8" r="8.3" fill="#fff" fill-opacity=".88" stroke="#b53a3a" stroke-width="1.6"/>
<circle cx="682.3" cy="1393.1" r="8.3" fill="#fff" fill-opacity=".88" stroke="#b53a3a" stroke-width="1.6"/>
<circle cx="697.5" cy="1376.6" r="8.3" fill="#fff" fill-opacity=".88" stroke="#b53a3a" stroke-width="1.6"/>
<circle cx="664.4" cy="1396.0" r="8.3" fill="#fff" fill-opacity=".88" stroke="#b53a3a" stroke-width="1.6"/>
<circle cx="743.0" cy="1400.8" r="8.3" fill="#fff" fill-opacity=".88" stroke="#b53a3a" stroke-width="1.6"/>
<circle cx="649.8" cy="1372.7" r="8.3" fill="#b53a3a" fill-opacity=".88" stroke="#b53a3a" stroke-width="1.6"/>
<circle cx="693.1" cy="1378.4" r="8.3" fill="#fff" fill-opacity=".88" stroke="#b53a3a" stroke-width="1.6"/>
<circle cx="641.3" cy="1391.3" r="8.3" fill="#fff" fill-opacity=".88" stroke="#b53a3a" stroke-width="1.6"/>
<circle cx="695.7" cy="1401.6" r="8.3" fill="#fff" fill-opacity=".88" stroke="#b53a3a" stroke-width="1.6"/>
<circle cx="736.0" cy="1400.9" r="8.3" fill="#b53a3a" fill-opacity=".88" stroke="#b53a3a" stroke-width="1.6"/>
<circle cx="705.3" cy="1384.3" r="8.3" fill="#fff" fill-opacity=".88" stroke="#b53a3a" stroke-width="1.6"/>
<circle cx="706.2" cy="1398.3" r="8.3" fill="#b53a3a" fill-opacity=".88" stroke="#b53a3a" stroke-width="1.6"/>
<circle cx="664.3" cy="1387.6" r="8.3" fill="#fff" fill-opacity=".88" stroke="#b53a3a" stroke-width="1.6"/>
<circle cx="644.2" cy="1399.1" r="8.3" fill="#b53a3a" fill-opacity=".88" stroke="#b53a3a" stroke-width="1.6"/>
<circle cx="648.7" cy="1379.4" r="8.3" fill="#fff" fill-opacity=".88" stroke="#b53a3a" stroke-width="1.6"/>
<circle cx="691.2" cy="1377.5" r="8.3" fill="#fff" fill-opacity=".88" stroke="#b53a3a" stroke-width="1.6"/>
<circle cx="722.0" cy="1345.3" r="8.3" fill="#fff" fill-opacity=".88" stroke="#b53a3a" stroke-width="1.6"/>
<circle cx="719.6" cy="1375.6" r="8.3" fill="#b53a3a" fill-opacity=".88" stroke="#b53a3a" stroke-width="1.6"/>
<circle cx="639.2" cy="1400.4" r="8.3" fill="#b53a3a" fill-opacity=".88" stroke="#b53a3a" stroke-width="1.6"/>
<circle cx="687.6" cy="1384.0" r="8.3" fill="#fff" fill-opacity=".88" stroke="#b53a3a" stroke-width="1.6"/>
<circle cx="751.5" cy="1397.0" r="8.3" fill="#fff" fill-opacity=".88" stroke="#b53a3a" stroke-width="1.6"/>
<circle cx="669.9" cy="1373.6" r="8.3" fill="#b53a3a" fill-opacity=".88" stroke="#b53a3a" stroke-width="1.6"/>
<circle cx="668.6" cy="1343.1" r="8.3" fill="#fff" fill-opacity=".88" stroke="#b53a3a" stroke-width="1.6"/>
<circle cx="649.3" cy="1348.0" r="8.3" fill="#fff" fill-opacity=".88" stroke="#b53a3a" stroke-width="1.6"/>
<circle cx="658.7" cy="1378.6" r="8.3" fill="#fff" fill-opacity=".88" stroke="#b53a3a" stroke-width="1.6"/>
<circle cx="647.7" cy="1379.0" r="8.3" fill="#fff" fill-opacity=".88" stroke="#b53a3a" stroke-width="1.6"/>
<circle cx="717.0" cy="1400.5" r="8.3" fill="#fff" fill-opacity=".88" stroke="#b53a3a" stroke-width="1.6"/>
<circle cx="653.6" cy="1387.4" r="8.3" fill="#fff" fill-opacity=".88" stroke="#b53a3a" stroke-width="1.6"/>
<circle cx="683.8" cy="1323.3" r="8.3" fill="#fff" fill-opacity=".88" stroke="#b53a3a" stroke-width="1.6"/>
<circle cx="699.8" cy="1391.4" r="8.3" fill="#fff" fill-opacity=".88" stroke="#b53a3a" stroke-width="1.6"/>
<circle cx="720.9" cy="1382.0" r="8.3" fill="#b53a3a" fill-opacity=".88" stroke="#b53a3a" stroke-width="1.6"/>
<circle cx="671.2" cy="1329.1" r="8.3" fill="#fff" fill-opacity=".88" stroke="#b53a3a" stroke-width="1.6"/>
<circle cx="689.8" cy="1399.3" r="8.3" fill="#fff" fill-opacity=".88" stroke="#b53a3a" stroke-width="1.6"/>
<circle cx="699.1" cy="1380.3" r="8.3" fill="#fff" fill-opacity=".88" stroke="#b53a3a" stroke-width="1.6"/>
<circle cx="675.7" cy="1357.0" r="8.3" fill="#b53a3a" fill-opacity=".88" stroke="#b53a3a" stroke-width="1.6"/>
<circle cx="645.1" cy="1367.2" r="8.3" fill="#fff" fill-opacity=".88" stroke="#b53a3a" stroke-width="1.6"/>
<circle cx="662.9" cy="1379.0" r="8.3" fill="#fff" fill-opacity=".88" stroke="#b53a3a" stroke-width="1.6"/>
<circle cx="698.9" cy="1388.9" r="8.3" fill="#fff" fill-opacity=".88" stroke="#b53a3a" stroke-width="1.6"/>
<circle cx="651.1" cy="1395.8" r="8.3" fill="#b53a3a" fill-opacity=".88" stroke="#b53a3a" stroke-width="1.6"/>
<circle cx="642.0" cy="1399.5" r="8.3" fill="#fff" fill-opacity=".88" stroke="#b53a3a" stroke-width="1.6"/>
<circle cx="651.6" cy="1376.5" r="8.3" fill="#fff" fill-opacity=".88" stroke="#b53a3a" stroke-width="1.6"/>
<circle cx="693.6" cy="1399.9" r="8.3" fill="#b53a3a" fill-opacity=".88" stroke="#b53a3a" stroke-width="1.6"/>
<circle cx="665.8" cy="1401.4" r="8.3" fill="#fff" fill-opacity=".88" stroke="#b53a3a" stroke-width="1.6"/>
<circle cx="651.9" cy="1398.7" r="8.3" fill="#b53a3a" fill-opacity=".88" stroke="#b53a3a" stroke-width="1.6"/>
<circle cx="652.7" cy="1372.5" r="8.3" fill="#fff" fill-opacity=".88" stroke="#b53a3a" stroke-width="1.6"/>
<circle cx="670.6" cy="1369.3" r="8.3" fill="#fff" fill-opacity=".88" stroke="#b53a3a" stroke-width="1.6"/>
<circle cx="697.3" cy="1401.2" r="8.3" fill="#b53a3a" fill-opacity=".88" stroke="#b53a3a" stroke-width="1.6"/>
<circle cx="724.6" cy="1371.9" r="8.3" fill="#fff" fill-opacity=".88" stroke="#b53a3a" stroke-width="1.6"/>
<circle cx="681.6" cy="1375.9" r="8.3" fill="#fff" fill-opacity=".88" stroke="#b53a3a" stroke-width="1.6"/>
<circle cx="750.5" cy="1388.9" r="8.3" fill="#fff" fill-opacity=".88" stroke="#b53a3a" stroke-width="1.6"/>
<circle cx="644.5" cy="1340.0" r="8.3" fill="#fff" fill-opacity=".88" stroke="#b53a3a" stroke-width="1.6"/>
<circle cx="672.6" cy="1390.9" r="8.3" fill="#b53a3a" fill-opacity=".88" stroke="#b53a3a" stroke-width="1.6"/>
<circle cx="668.1" cy="1388.2" r="8.3" fill="#fff" fill-opacity=".88" stroke="#b53a3a" stroke-width="1.6"/>
<circle cx="691.2" cy="1366.5" r="8.3" fill="#fff" fill-opacity=".88" stroke="#b53a3a" stroke-width="1.6"/>
<circle cx="662.0" cy="1401.6" r="8.3" fill="#b53a3a" fill-opacity=".88" stroke="#b53a3a" stroke-width="1.6"/>
<circle cx="642.4" cy="1376.1" r="8.3" fill="#fff" fill-opacity=".88" stroke="#b53a3a" stroke-width="1.6"/>
<circle cx="661.4" cy="1374.9" r="8.3" fill="#fff" fill-opacity=".88" stroke="#b53a3a" stroke-width="1.6"/>
<circle cx="660.8" cy="1369.9" r="8.3" fill="#fff" fill-opacity=".88" stroke="#b53a3a" stroke-width="1.6"/>
<circle cx="646.8" cy="1388.4" r="8.3" fill="#fff" fill-opacity=".88" stroke="#b53a3a" stroke-width="1.6"/>
<circle cx="672.0" cy="1376.9" r="8.3" fill="#fff" fill-opacity=".88" stroke="#b53a3a" stroke-width="1.6"/>
<circle cx="706.4" cy="1354.8" r="8.3" fill="#fff" fill-opacity=".88" stroke="#b53a3a" stroke-width="1.6"/>
<circle cx="661.6" cy="1368.6" r="8.3" fill="#b53a3a" fill-opacity=".88" stroke="#b53a3a" stroke-width="1.6"/>
<circle cx="655.8" cy="1370.8" r="8.3" fill="#fff" fill-opacity=".88" stroke="#b53a3a" stroke-width="1.6"/>
<circle cx="686.4" cy="1399.9" r="8.3" fill="#b53a3a" fill-opacity=".88" stroke="#b53a3a" stroke-width="1.6"/>
<circle cx="654.7" cy="1333.5" r="8.3" fill="#fff" fill-opacity=".88" stroke="#b53a3a" stroke-width="1.6"/>
<circle cx="685.0" cy="1379.7" r="8.3" fill="#b53a3a" fill-opacity=".88" stroke="#b53a3a" stroke-width="1.6"/>
<circle cx="643.1" cy="1381.2" r="8.3" fill="#fff" fill-opacity=".88" stroke="#b53a3a" stroke-width="1.6"/>
<circle cx="713.2" cy="1361.6" r="8.3" fill="#b53a3a" fill-opacity=".88" stroke="#b53a3a" stroke-width="1.6"/>
<circle cx="636.0" cy="1408.9" r="8.3" fill="#fff" fill-opacity=".88" stroke="#2f8f2f" stroke-width="1.6"/>
<circle cx="639.5" cy="1410.9" r="8.3" fill="#fff" fill-opacity=".88" stroke="#2f8f2f" stroke-width="1.6"/>
<circle cx="646.0" cy="1410.8" r="8.3" fill="#2f8f2f" fill-opacity=".88" stroke="#2f8f2f" stroke-width="1.6"/>
<circle cx="650.1" cy="1410.7" r="8.3" fill="#2f8f2f" fill-opacity=".88" stroke="#2f8f2f" stroke-width="1.6"/>
<circle cx="655.2" cy="1410.3" r="8.3" fill="#2f8f2f" fill-opacity=".88" stroke="#2f8f2f" stroke-width="1.6"/>
<circle cx="660.1" cy="1410.2" r="8.3" fill="#2f8f2f" fill-opacity=".88" stroke="#2f8f2f" stroke-width="1.6"/>
<circle cx="664.9" cy="1410.2" r="8.3" fill="#2f8f2f" fill-opacity=".88" stroke="#2f8f2f" stroke-width="1.6"/>
<circle cx="669.9" cy="1409.6" r="8.3" fill="#2f8f2f" fill-opacity=".88" stroke="#2f8f2f" stroke-width="1.6"/>
<circle cx="675.9" cy="1410.3" r="8.3" fill="#2f8f2f" fill-opacity=".88" stroke="#2f8f2f" stroke-width="1.6"/>
<circle cx="680.6" cy="1408.5" r="8.3" fill="#2f8f2f" fill-opacity=".88" stroke="#2f8f2f" stroke-width="1.6"/>
<circle cx="685.5" cy="1410.2" r="8.3" fill="#fff" fill-opacity=".88" stroke="#2f8f2f" stroke-width="1.6"/>
<circle cx="690.6" cy="1410.5" r="8.3" fill="#2f8f2f" fill-opacity=".88" stroke="#2f8f2f" stroke-width="1.6"/>
<circle cx="695.7" cy="1408.5" r="8.3" fill="#2f8f2f" fill-opacity=".88" stroke="#2f8f2f" stroke-width="1.6"/>
<circle cx="700.8" cy="1409.3" r="8.3" fill="#2f8f2f" fill-opacity=".88" stroke="#2f8f2f" stroke-width="1.6"/>
<circle cx="706.8" cy="1409.1" r="8.3" fill="#2f8f2f" fill-opacity=".88" stroke="#2f8f2f" stroke-width="1.6"/>
<circle cx="710.3" cy="1409.8" r="8.3" fill="#2f8f2f" fill-opacity=".88" stroke="#2f8f2f" stroke-width="1.6"/>
<circle cx="714.3" cy="1408.8" r="8.3" fill="#fff" fill-opacity=".88" stroke="#2f8f2f" stroke-width="1.6"/>
<circle cx="719.9" cy="1410.5" r="8.3" fill="#fff" fill-opacity=".88" stroke="#2f8f2f" stroke-width="1.6"/>
<circle cx="726.2" cy="1409.4" r="8.3" fill="#2f8f2f" fill-opacity=".88" stroke="#2f8f2f" stroke-width="1.6"/>
<circle cx="731.3" cy="1410.9" r="8.3" fill="#2f8f2f" fill-opacity=".88" stroke="#2f8f2f" stroke-width="1.6"/>
<circle cx="735.8" cy="1409.1" r="8.3" fill="#2f8f2f" fill-opacity=".88" stroke="#2f8f2f" stroke-width="1.6"/>
<circle cx="741.5" cy="1408.8" r="8.3" fill="#fff" fill-opacity=".88" stroke="#2f8f2f" stroke-width="1.6"/>
<circle cx="746.9" cy="1410.6" r="8.3" fill="#2f8f2f" fill-opacity=".88" stroke="#2f8f2f" stroke-width="1.6"/>
<circle cx="749.2" cy="1409.0" r="8.3" fill="#fff" fill-opacity=".88" stroke="#2f8f2f" stroke-width="1.6"/>
<circle cx="754.2" cy="1409.6" r="8.3" fill="#2f8f2f" fill-opacity=".88" stroke="#2f8f2f" stroke-width="1.6"/>
<circle cx="760.2" cy="1410.8" r="8.3" fill="#fff" fill-opacity=".88" stroke="#2f8f2f" stroke-width="1.6"/>
<circle cx="766.4" cy="1408.8" r="8.3" fill="#2f8f2f" fill-opacity=".88" stroke="#2f8f2f" stroke-width="1.6"/>
<circle cx="771.8" cy="1410.3" r="8.3" fill="#2f8f2f" fill-opacity=".88" stroke="#2f8f2f" stroke-width="1.6"/>
<circle cx="777.0" cy="1408.9" r="8.3" fill="#2f8f2f" fill-opacity=".88" stroke="#2f8f2f" stroke-width="1.6"/>
<circle cx="780.2" cy="1408.8" r="8.3" fill="#fff" fill-opacity=".88" stroke="#2f8f2f" stroke-width="1.6"/>
<circle cx="784.0" cy="1409.1" r="8.3" fill="#2f8f2f" fill-opacity=".88" stroke="#2f8f2f" stroke-width="1.6"/>
<circle cx="790.6" cy="1410.8" r="8.3" fill="#2f8f2f" fill-opacity=".88" stroke="#2f8f2f" stroke-width="1.6"/>
<circle cx="795.0" cy="1409.5" r="8.3" fill="#2f8f2f" fill-opacity=".88" stroke="#2f8f2f" stroke-width="1.6"/>
<circle cx="799.3" cy="1410.6" r="8.3" fill="#2f8f2f" fill-opacity=".88" stroke="#2f8f2f" stroke-width="1.6"/>
<circle cx="804.0" cy="1409.7" r="8.3" fill="#fff" fill-opacity=".88" stroke="#2f8f2f" stroke-width="1.6"/>
<circle cx="809.6" cy="1409.6" r="8.3" fill="#fff" fill-opacity=".88" stroke="#2f8f2f" stroke-width="1.6"/>
<circle cx="674.9" cy="1233.8" r="8.3" fill="#2f8f2f" fill-opacity=".88" stroke="#2f8f2f" stroke-width="1.6"/>
<circle cx="716.7" cy="1229.6" r="8.3" fill="#2f8f2f" fill-opacity=".88" stroke="#2f8f2f" stroke-width="1.6"/>
<circle cx="662.5" cy="1255.8" r="8.3" fill="#2f8f2f" fill-opacity=".88" stroke="#2f8f2f" stroke-width="1.6"/>
<circle cx="712.0" cy="1262.6" r="8.3" fill="#2f8f2f" fill-opacity=".88" stroke="#2f8f2f" stroke-width="1.6"/>
<circle cx="690.0" cy="1277.8" r="8.3" fill="#2f8f2f" fill-opacity=".88" stroke="#2f8f2f" stroke-width="1.6"/>
<circle cx="756.0" cy="1272.3" r="8.3" fill="#2f8f2f" fill-opacity=".88" stroke="#2f8f2f" stroke-width="1.6"/>
<circle cx="740.9" cy="1299.8" r="8.3" fill="#2f8f2f" fill-opacity=".88" stroke="#2f8f2f" stroke-width="1.6"/>
<circle cx="698.8" cy="1303.9" r="8.3" fill="#2f8f2f" fill-opacity=".88" stroke="#2f8f2f" stroke-width="1.6"/>
<circle cx="783.0" cy="1298.4" r="8.3" fill="#2f8f2f" fill-opacity=".88" stroke="#2f8f2f" stroke-width="1.6"/>
<circle cx="769.8" cy="1303.9" r="8.3" fill="#2f8f2f" fill-opacity=".88" stroke="#2f8f2f" stroke-width="1.6"/>
<circle cx="783.5" cy="1321.8" r="8.3" fill="#2f8f2f" fill-opacity=".88" stroke="#2f8f2f" stroke-width="1.6"/>
<circle cx="736.8" cy="1325.9" r="8.3" fill="#2f8f2f" fill-opacity=".88" stroke="#2f8f2f" stroke-width="1.6"/>
<circle cx="797.3" cy="1335.5" r="8.3" fill="#2f8f2f" fill-opacity=".88" stroke="#2f8f2f" stroke-width="1.6"/>
<circle cx="789.0" cy="1352.0" r="8.3" fill="#2f8f2f" fill-opacity=".88" stroke="#2f8f2f" stroke-width="1.6"/>
<circle cx="800.0" cy="1368.5" r="8.3" fill="#2f8f2f" fill-opacity=".88" stroke="#2f8f2f" stroke-width="1.6"/>
<circle cx="641.1" cy="1258.5" r="8.3" fill="#fff" fill-opacity=".88" stroke="#2f8f2f" stroke-width="1.6"/>
<circle cx="647.4" cy="1259.9" r="8.3" fill="#fff" fill-opacity=".88" stroke="#2f8f2f" stroke-width="1.6"/>
<circle cx="639.1" cy="1270.9" r="8.3" fill="#fff" fill-opacity=".88" stroke="#2f8f2f" stroke-width="1.6"/>
<circle cx="657.0" cy="1262.6" r="8.3" fill="#fff" fill-opacity=".88" stroke="#2f8f2f" stroke-width="1.6"/>
<circle cx="662.5" cy="1265.4" r="8.3" fill="#fff" fill-opacity=".88" stroke="#2f8f2f" stroke-width="1.6"/>
<circle cx="652.9" cy="1272.3" r="8.3" fill="#fff" fill-opacity=".88" stroke="#2f8f2f" stroke-width="1.6"/>
<circle cx="663.9" cy="1281.9" r="8.3" fill="#fff" fill-opacity=".88" stroke="#2f8f2f" stroke-width="1.6"/>
<circle cx="668.0" cy="1292.9" r="8.3" fill="#fff" fill-opacity=".88" stroke="#2f8f2f" stroke-width="1.6"/>
<circle cx="683.1" cy="1294.3" r="8.3" fill="#fff" fill-opacity=".88" stroke="#2f8f2f" stroke-width="1.6"/>
<circle cx="729.3" cy="1272.3" r="8.3" fill="#fff" fill-opacity=".88" stroke="#2f8f2f" stroke-width="1.6"/>
<circle cx="728.5" cy="1284.6" r="8.3" fill="#fff" fill-opacity=".88" stroke="#2f8f2f" stroke-width="1.6"/>
<circle cx="732.6" cy="1287.4" r="8.3" fill="#fff" fill-opacity=".88" stroke="#2f8f2f" stroke-width="1.6"/>
<circle cx="768.4" cy="1281.9" r="8.3" fill="#fff" fill-opacity=".88" stroke="#2f8f2f" stroke-width="1.6"/>
<circle cx="740.9" cy="1316.3" r="8.3" fill="#fff" fill-opacity=".88" stroke="#2f8f2f" stroke-width="1.6"/>
<circle cx="721.6" cy="1323.1" r="8.3" fill="#fff" fill-opacity=".88" stroke="#2f8f2f" stroke-width="1.6"/>
<circle cx="757.4" cy="1327.3" r="8.3" fill="#fff" fill-opacity=".88" stroke="#2f8f2f" stroke-width="1.6"/>
<circle cx="778.0" cy="1347.9" r="8.3" fill="#fff" fill-opacity=".88" stroke="#2f8f2f" stroke-width="1.6"/>
<circle cx="758.8" cy="1363.0" r="8.3" fill="#fff" fill-opacity=".88" stroke="#2f8f2f" stroke-width="1.6"/>
<circle cx="772.5" cy="1360.3" r="8.3" fill="#fff" fill-opacity=".88" stroke="#2f8f2f" stroke-width="1.6"/>
<circle cx="712.0" cy="1324.5" r="8.3" fill="#fff" fill-opacity=".88" stroke="#2f8f2f" stroke-width="1.6"/>
<circle cx="734.0" cy="1363.0" r="8.3" fill="#fff" fill-opacity=".88" stroke="#2f8f2f" stroke-width="1.6"/>
<circle cx="769.8" cy="1369.9" r="8.3" fill="#fff" fill-opacity=".88" stroke="#2f8f2f" stroke-width="1.6"/>
<circle cx="745.0" cy="1374.0" r="8.3" fill="#fff" fill-opacity=".88" stroke="#2f8f2f" stroke-width="1.6"/>
<circle cx="783.5" cy="1374.0" r="8.3" fill="#fff" fill-opacity=".88" stroke="#2f8f2f" stroke-width="1.6"/>
<circle cx="761.5" cy="1349.3" r="8.3" fill="#fff" fill-opacity=".88" stroke="#2f8f2f" stroke-width="1.6"/>
<circle cx="745.0" cy="1349.3" r="8.3" fill="#fff" fill-opacity=".88" stroke="#2f8f2f" stroke-width="1.6"/>
<circle cx="646.0" cy="1298.4" r="8.3" fill="#b53a3a" fill-opacity=".88" stroke="#b53a3a" stroke-width="1.6"/>
<circle cx="679.0" cy="1295.6" r="8.3" fill="#b53a3a" fill-opacity=".88" stroke="#b53a3a" stroke-width="1.6"/>
<circle cx="672.1" cy="1310.8" r="8.3" fill="#b53a3a" fill-opacity=".88" stroke="#b53a3a" stroke-width="1.6"/>
<circle cx="696.9" cy="1331.4" r="8.3" fill="#b53a3a" fill-opacity=".88" stroke="#b53a3a" stroke-width="1.6"/>
<circle cx="787.6" cy="1328.6" r="8.3" fill="#b53a3a" fill-opacity=".88" stroke="#b53a3a" stroke-width="1.6"/>
<circle cx="769.8" cy="1396.0" r="8.3" fill="#b53a3a" fill-opacity=".88" stroke="#b53a3a" stroke-width="1.6"/>
<circle cx="783.5" cy="1382.3" r="8.3" fill="#b53a3a" fill-opacity=".88" stroke="#b53a3a" stroke-width="1.6"/>
<circle cx="793.1" cy="1382.3" r="8.3" fill="#b53a3a" fill-opacity=".88" stroke="#b53a3a" stroke-width="1.6"/>
<circle cx="789.0" cy="1398.8" r="8.3" fill="#b53a3a" fill-opacity=".88" stroke="#b53a3a" stroke-width="1.6"/>
<circle cx="643.3" cy="1400.1" r="8.3" fill="#b53a3a" fill-opacity=".88" stroke="#b53a3a" stroke-width="1.6"/>
<circle cx="639.1" cy="1396.0" r="8.3" fill="#b53a3a" fill-opacity=".88" stroke="#b53a3a" stroke-width="1.6"/>
<circle cx="654.3" cy="1398.8" r="8.3" fill="#b53a3a" fill-opacity=".88" stroke="#b53a3a" stroke-width="1.6"/>
<circle cx="742.3" cy="1365.8" r="8.3" fill="#b53a3a" fill-opacity=".88" stroke="#b53a3a" stroke-width="1.6"/>
<circle cx="728.5" cy="1379.5" r="8.3" fill="#b53a3a" fill-opacity=".88" stroke="#b53a3a" stroke-width="1.6"/>
<circle cx="750.5" cy="1398.8" r="8.3" fill="#b53a3a" fill-opacity=".88" stroke="#b53a3a" stroke-width="1.6"/>
<circle cx="736.8" cy="1401.5" r="8.3" fill="#b53a3a" fill-opacity=".88" stroke="#b53a3a" stroke-width="1.6"/>
<circle cx="647.4" cy="1231.0" r="8.3" fill="#fff" fill-opacity=".88" stroke="#b53a3a" stroke-width="1.6"/>
<circle cx="654.3" cy="1228.3" r="8.3" fill="#fff" fill-opacity=".88" stroke="#b53a3a" stroke-width="1.6"/>
<circle cx="641.9" cy="1291.0" r="8.3" fill="#fff" fill-opacity=".88" stroke="#b53a3a" stroke-width="1.6"/>
<circle cx="646.0" cy="1309.4" r="8.3" fill="#fff" fill-opacity=".88" stroke="#b53a3a" stroke-width="1.6"/>
<circle cx="656.5" cy="1310.8" r="8.3" fill="#fff" fill-opacity=".88" stroke="#b53a3a" stroke-width="1.6"/>
<circle cx="680.4" cy="1303.9" r="8.3" fill="#fff" fill-opacity=".88" stroke="#b53a3a" stroke-width="1.6"/>
<circle cx="717.5" cy="1301.1" r="8.3" fill="#fff" fill-opacity=".88" stroke="#b53a3a" stroke-width="1.6"/>
<circle cx="687.8" cy="1320.4" r="8.3" fill="#fff" fill-opacity=".88" stroke="#b53a3a" stroke-width="1.6"/>
<circle cx="764.8" cy="1310.8" r="8.3" fill="#fff" fill-opacity=".88" stroke="#b53a3a" stroke-width="1.6"/>
<circle cx="662.5" cy="1330.0" r="8.3" fill="#fff" fill-opacity=".88" stroke="#b53a3a" stroke-width="1.6"/>
<circle cx="652.9" cy="1330.0" r="8.3" fill="#fff" fill-opacity=".88" stroke="#b53a3a" stroke-width="1.6"/>
<circle cx="643.3" cy="1332.8" r="8.3" fill="#fff" fill-opacity=".88" stroke="#b53a3a" stroke-width="1.6"/>
<circle cx="683.1" cy="1339.6" r="8.3" fill="#fff" fill-opacity=".88" stroke="#b53a3a" stroke-width="1.6"/>
<circle cx="731.3" cy="1343.8" r="8.3" fill="#fff" fill-opacity=".88" stroke="#b53a3a" stroke-width="1.6"/>
<circle cx="754.6" cy="1349.3" r="8.3" fill="#fff" fill-opacity=".88" stroke="#b53a3a" stroke-width="1.6"/>
<circle cx="673.5" cy="1352.0" r="8.3" fill="#fff" fill-opacity=".88" stroke="#b53a3a" stroke-width="1.6"/>
<circle cx="665.3" cy="1352.0" r="8.3" fill="#fff" fill-opacity=".88" stroke="#b53a3a" stroke-width="1.6"/>
<circle cx="659.8" cy="1338.3" r="8.3" fill="#fff" fill-opacity=".88" stroke="#b53a3a" stroke-width="1.6"/>
<circle cx="679.0" cy="1354.8" r="8.3" fill="#fff" fill-opacity=".88" stroke="#b53a3a" stroke-width="1.6"/>
<circle cx="698.3" cy="1363.0" r="8.3" fill="#fff" fill-opacity=".88" stroke="#b53a3a" stroke-width="1.6"/>
<circle cx="713.4" cy="1363.0" r="8.3" fill="#fff" fill-opacity=".88" stroke="#b53a3a" stroke-width="1.6"/>
<circle cx="717.5" cy="1374.0" r="8.3" fill="#fff" fill-opacity=".88" stroke="#b53a3a" stroke-width="1.6"/>
<circle cx="709.3" cy="1379.5" r="8.3" fill="#fff" fill-opacity=".88" stroke="#b53a3a" stroke-width="1.6"/>
<circle cx="701.0" cy="1371.3" r="8.3" fill="#fff" fill-opacity=".88" stroke="#b53a3a" stroke-width="1.6"/>
<circle cx="717.5" cy="1382.3" r="8.3" fill="#fff" fill-opacity=".88" stroke="#b53a3a" stroke-width="1.6"/>
<circle cx="736.8" cy="1385.0" r="8.3" fill="#fff" fill-opacity=".88" stroke="#b53a3a" stroke-width="1.6"/>
<circle cx="740.9" cy="1391.9" r="8.3" fill="#fff" fill-opacity=".88" stroke="#b53a3a" stroke-width="1.6"/>
<circle cx="750.5" cy="1390.5" r="8.3" fill="#fff" fill-opacity=".88" stroke="#b53a3a" stroke-width="1.6"/>
<circle cx="729.9" cy="1385.0" r="8.3" fill="#fff" fill-opacity=".88" stroke="#b53a3a" stroke-width="1.6"/>
<circle cx="703.8" cy="1385.0" r="8.3" fill="#fff" fill-opacity=".88" stroke="#b53a3a" stroke-width="1.6"/>
<circle cx="690.0" cy="1374.0" r="8.3" fill="#fff" fill-opacity=".88" stroke="#b53a3a" stroke-width="1.6"/>
<circle cx="670.8" cy="1343.8" r="8.3" fill="#fff" fill-opacity=".88" stroke="#b53a3a" stroke-width="1.6"/>
<circle cx="709.3" cy="1343.8" r="8.3" fill="#ffa51f" fill-opacity=".88" stroke="#ffa51f" stroke-width="1.6"/>
<circle cx="648.8" cy="1363.0" r="8.3" fill="#ffa51f" fill-opacity=".88" stroke="#ffa51f" stroke-width="1.6"/>
<circle cx="665.3" cy="1368.5" r="8.3" fill="#ffa51f" fill-opacity=".88" stroke="#ffa51f" stroke-width="1.6"/>
<circle cx="643.3" cy="1380.9" r="8.3" fill="#ffa51f" fill-opacity=".88" stroke="#ffa51f" stroke-width="1.6"/>
<circle cx="720.3" cy="1396.0" r="8.3" fill="#ffa51f" fill-opacity=".88" stroke="#ffa51f" stroke-width="1.6"/>
<circle cx="676.3" cy="1398.8" r="8.3" fill="#ffa51f" fill-opacity=".88" stroke="#ffa51f" stroke-width="1.6"/>
<circle cx="695.5" cy="1391.9" r="8.3" fill="#ffa51f" fill-opacity=".88" stroke="#ffa51f" stroke-width="1.6"/>
<circle cx="662.5" cy="1385.0" r="8.3" fill="#ffa51f" fill-opacity=".88" stroke="#ffa51f" stroke-width="1.6"/>
<circle cx="651.5" cy="1385.0" r="8.3" fill="#ffa51f" fill-opacity=".88" stroke="#ffa51f" stroke-width="1.6"/>
<circle cx="670.8" cy="1382.3" r="8.3" fill="#ffa51f" fill-opacity=".88" stroke="#ffa51f" stroke-width="1.6"/>
<circle cx="684.5" cy="1396.0" r="8.3" fill="#ffa51f" fill-opacity=".88" stroke="#ffa51f" stroke-width="1.6"/>
<circle cx="670.8" cy="1396.0" r="8.3" fill="#ffa51f" fill-opacity=".88" stroke="#ffa51f" stroke-width="1.6"/>
<circle cx="750.5" cy="1324.5" r="8.3" fill="#fff" fill-opacity=".88" stroke="#ffa51f" stroke-width="1.6"/>
<circle cx="747.8" cy="1363.6" r="8.3" fill="#fff" fill-opacity=".88" stroke="#ffa51f" stroke-width="1.6"/>
<circle cx="647.4" cy="1352.0" r="8.3" fill="#fff" fill-opacity=".88" stroke="#ffa51f" stroke-width="1.6"/>
<circle cx="681.2" cy="1365.2" r="8.3" fill="#fff" fill-opacity=".88" stroke="#ffa51f" stroke-width="1.6"/>
<circle cx="652.9" cy="1377.3" r="8.3" fill="#fff" fill-opacity=".88" stroke="#ffa51f" stroke-width="1.6"/>
<circle cx="662.5" cy="1394.6" r="8.3" fill="#fff" fill-opacity=".88" stroke="#ffa51f" stroke-width="1.6"/>
<circle cx="672.1" cy="1391.9" r="8.3" fill="#fff" fill-opacity=".88" stroke="#ffa51f" stroke-width="1.6"/>
<circle cx="679.0" cy="1387.8" r="8.3" fill="#fff" fill-opacity=".88" stroke="#ffa51f" stroke-width="1.6"/>
<circle cx="691.4" cy="1387.8" r="8.3" fill="#fff" fill-opacity=".88" stroke="#ffa51f" stroke-width="1.6"/>
<circle cx="681.8" cy="1368.5" r="8.3" fill="#fff" fill-opacity=".88" stroke="#ffa51f" stroke-width="1.6"/>
      </g>
    </svg>
    <!-- drop shadow from panel above -->
    <div class="abs" style="left:0;top:0;width:521px;height:60px;overflow:hidden;-webkit-mask-image:linear-gradient(90deg,rgba(0,0,0,.55) 0,#000 62px);mask-image:linear-gradient(90deg,rgba(0,0,0,.55) 0,#000 62px)"><div class="abs" style="left:-3px;top:-400px;width:700px;height:100px;box-shadow:0 322px 16px 0 rgba(0,0,0,.43)"></div></div>
    <div class="abs" style="left:274.7px;top:0;width:6.3px;height:204px;background:linear-gradient(180deg,#2a68a2 0,#2a6ca8 16px,#2a78bd 34px)"></div>
    <!-- logo -->
    <svg class="abs" style="left:-279px;top:-1228px" width="800" height="1462" viewBox="0 0 800 1462" fill="none">
      <path d="M317.3 1421.5V1441.3H349.7V1421.5" stroke="#2b2b2b" stroke-width="2.3"/>
      <rect x="322.3" y="1419" width="5.4" height="18.3" fill="#2f7df6"/>
      <rect x="331.4" y="1412.4" width="5.6" height="24.9" fill="#2f7df6"/>
      <rect x="340.6" y="1419" width="5.7" height="18.3" fill="#2f7df6"/>
      <path d="M312.6 1416.3L334.1 1403.6L355.1 1416.3L361.5 1409.8" stroke="#2f7df6" stroke-width="1.9"/>
      <path d="M357.6 1408l5.6-.4-.5 5.6z" fill="#2f7df6"/>
      <circle cx="312.6" cy="1416.3" r="2.7" fill="#fff" stroke="#2f7df6" stroke-width="1.7"/>
      <circle cx="334.1" cy="1403.6" r="2.7" fill="#fff" stroke="#2f7df6" stroke-width="1.7"/>
      <circle cx="355.1" cy="1416.3" r="2.7" fill="#fff" stroke="#2f7df6" stroke-width="1.7"/>
    </svg>
  </div>
</div>

<div class="abs" style="left:0;top:351.7px;width:800px;height:3.3px;background:rgba(205,212,238,.38)"></div>
<div id="app" class="abs"></div>
<div id="band" class="abs"></div>
<div id="foot" class="abs"></div>
<div class="abs" style="left:0;top:525px;width:800px;height:1.5px;background:#f1f2f6"></div>

<!-- buttons -->
<div class="abs btn" style="left:235.3px;top:464px;width:210.4px;height:47.3px;background:#3484c9;border:1.5px solid #2577c3;box-sizing:border-box"></div>
<div class="abs btn" style="left:466px;top:463px;width:211.5px;height:49px;background:#9ab2de"></div>
<div class="abs btn" style="left:698px;top:464.5px;width:120px;height:46px;background:#1f74be"></div>
<svg class="abs" style="left:0;top:0" width="800" height="1462" viewBox="0 0 800 1462">
  <path d="M407 497H424.7V479.2z" fill="#dfeaf6"/>
  <path d="M409.6 478V498" stroke="#3484c9" stroke-opacity=".45" stroke-width=".8"/><path d="M412.1 478V498" stroke="#3484c9" stroke-opacity=".45" stroke-width=".8"/><path d="M414.6 478V498" stroke="#3484c9" stroke-opacity=".45" stroke-width=".8"/><path d="M417.1 478V498" stroke="#3484c9" stroke-opacity=".45" stroke-width=".8"/><path d="M419.6 478V498" stroke="#3484c9" stroke-opacity=".45" stroke-width=".8"/><path d="M422.1 478V498" stroke="#3484c9" stroke-opacity=".45" stroke-width=".8"/>
  <path d="M407.6 491.2L416.6 480" stroke="#eef4fb" stroke-width="1.5"/>
  <path d="M414 480.6l3.6-1.8-.6 4z" fill="#eef4fb"/>
  <path d="M638.3 497H655.8V479.2z" fill="#252a3a"/>
  <path d="M640.9 478V498" stroke="#9ab2de" stroke-opacity=".45" stroke-width=".8"/><path d="M643.4 478V498" stroke="#9ab2de" stroke-opacity=".45" stroke-width=".8"/><path d="M645.9 478V498" stroke="#9ab2de" stroke-opacity=".45" stroke-width=".8"/><path d="M648.4 478V498" stroke="#9ab2de" stroke-opacity=".45" stroke-width=".8"/><path d="M650.9 478V498" stroke="#9ab2de" stroke-opacity=".45" stroke-width=".8"/><path d="M653.4 478V498" stroke="#9ab2de" stroke-opacity=".45" stroke-width=".8"/>
  <path d="M638.8 491.2L647.8 480" stroke="#252a3a" stroke-width="1.5"/>
  <path d="M645.2 480.6l3.6-1.8-.6 4z" fill="#252a3a"/>
</svg>

<div id="tabline" class="abs"></div>
<div id="tabsel" class="abs"></div>

<!-- filter row -->
<div class="abs" style="left:200px;top:626px;width:19px;height:19px;border:1.5px solid #d9dadd;border-radius:4px;box-sizing:border-box;background:#fff"></div>
<div class="abs" style="left:564px;top:621.5px;width:88px;height:39.5px;border:1.5px solid #dfe1e5;border-radius:6px;box-sizing:border-box;background:#fff"></div>
<div class="abs" style="left:617.5px;top:622px;width:1.5px;height:38px;background:#dfe1e5"></div>
<svg class="abs" style="left:627px;top:635px" width="14" height="10" viewBox="0 0 14 10"><path d="M2.5 2.5L7 7L11.5 2.5" fill="none" stroke="#444" stroke-width="2" stroke-linecap="round" stroke-linejoin="round"/></svg>
<div class="abs" style="left:778.5px;top:621.5px;width:60px;height:39.5px;border:1.5px solid #dfe1e5;border-radius:6px;box-sizing:border-box;background:#fff"></div>
<div class="abs" style="left:788.5px;top:632px;width:30px;height:20.5px;border-radius:3px;background:#1f74be;color:#fff;font-weight:bold;font-size:14px;line-height:20.5px;text-indent:5.5px">E</div>

<!-- chart card -->
<div id="card" class="abs"></div>
<div class="abs" style="left:102px;top:1005px;width:698px;height:1.5px;background:#e3e3e3"></div>
<div class="abs bar" style="left:120px;top:763px;width:55px;height:241.5px;background:#3a6b33"><i style="top:0;height:25.8px;background:#c0673c"></i></div>
<div class="abs bar" style="left:242.2px;top:772.8px;width:55.3px;height:231.7px;background:#3a6b33"><i style="top:0;height:41.2px;background:#c0673c"></i><i style="top:0;height:5.2px;background:#f9b340"></i></div>
<div class="abs bar" style="left:364.7px;top:815.6px;width:54px;height:188.9px;background:#3a6b33"><i style="top:0;height:30.4px;background:#c0673c"></i></div>
<div class="abs bar" style="left:486.8px;top:934.8px;width:54.8px;height:69.7px;background:#3a6b33"></div>
<div class="abs bar" style="left:608.7px;top:936px;width:54.3px;height:68.5px;background:#3a6b33"><i style="top:0;height:7.3px;background:#c0673c"></i></div>
<div class="abs bar" style="left:731px;top:940.4px;width:55px;height:64.1px;background:#3a6b33"><i style="top:0;height:3.4px;background:#c0673c"></i></div>
<div class="abs" style="left:147px;top:1006px;width:1px;height:5px;background:#e2e2e2"></div><div class="abs" style="left:269.5px;top:1006px;width:1px;height:5px;background:#e2e2e2"></div><div class="abs" style="left:391.5px;top:1006px;width:1px;height:5px;background:#e2e2e2"></div><div class="abs" style="left:514px;top:1006px;width:1px;height:5px;background:#e2e2e2"></div><div class="abs" style="left:636px;top:1006px;width:1px;height:5px;background:#e2e2e2"></div><div class="abs" style="left:758px;top:1006px;width:1px;height:5px;background:#e2e2e2"></div>
<!-- legend swatches -->
<div class="abs" style="left:384.5px;top:1079.5px;width:11.5px;height:11.5px;border-radius:2px;background:#1d4d15"></div>
<div class="abs" style="left:446px;top:1079.5px;width:11.5px;height:11.5px;border-radius:2px;background:#b5471f"></div>
<div class="abs" style="left:521.5px;top:1079.5px;width:11.5px;height:11.5px;border-radius:2px;background:#fba41f"></div>

<span class="t" style="left:61.73px;top:59.05px;font-size:37px;font-weight:bold;color:#f6f7f9;transform:scaleX(1.0101);">Merger &amp; Acquisition Targeting</span>
<span class="t" style="left:57.41px;top:123.45px;font-size:53px;font-weight:bold;color:#f2f3f6;transform:scaleX(0.9608);">Find the right companies to</span>
<span class="t" style="left:57.60px;top:181.75px;font-size:53px;font-weight:bold;color:#f2f3f6;transform:scaleX(0.9674);">merge with or acquire.</span>
<span class="t" style="left:-2.05px;top:375.39px;font-size:31.3px;font-weight:normal;color:#1f76c2;transform:scaleX(1.0255);text-shadow:0.4px 0 0 #1f76c2">itix Online!</span>
<span class="t" style="left:-14.06px;top:475.57px;font-size:22.5px;font-weight:bold;color:#3a3a3a;transform:scaleX(1.0645);">Office</span>
<span class="t" style="left:252.50px;top:479.51px;font-size:15.4px;font-weight:bold;color:#fff;transform:scaleX(1.0000);">Agent Performance</span>
<span class="t" style="left:484.01px;top:479.51px;font-size:15.4px;font-weight:bold;color:#16161e;transform:scaleX(0.9929);">Office Performance</span>
<span class="t" style="left:736.01px;top:479.51px;font-size:15.4px;font-weight:bold;color:#fff;transform:scaleX(0.9857);">AgentInte</span>
<span class="t" style="left:-1.08px;top:556.99px;font-size:14.6px;font-weight:normal;color:#2a7bca;transform:scaleX(1.0820);text-shadow:0 0 .4px #2a7bca">Summary</span>
<span class="t" style="left:94.42px;top:556.99px;font-size:14.6px;font-weight:normal;color:#2a7bca;transform:scaleX(1.0839);text-shadow:0 0 .4px #2a7bca">Coverage</span>
<span class="t" style="left:191.31px;top:556.99px;font-size:14.6px;font-weight:normal;color:#2a7bca;transform:scaleX(1.0930);text-shadow:0 0 .4px #2a7bca">Distribution</span>
<span class="t" style="left:299.70px;top:556.99px;font-size:14.6px;font-weight:normal;color:#2a7bca;transform:scaleX(1.0676);text-shadow:0 0 .4px #2a7bca">Aging</span>
<span class="t" style="left:367.87px;top:556.99px;font-size:14.6px;font-weight:normal;color:#2a7bca;transform:scaleX(1.0333);text-shadow:0 0 .4px #2a7bca">Listings</span>
<span class="t" style="left:447.90px;top:556.99px;font-size:14.6px;font-weight:bold;color:#1f6fbe;transform:scaleX(0.9979);">Agents</span>
<span class="t" style="left:1.50px;top:629.90px;font-size:16px;font-weight:normal;color:#666;transform:scaleX(1.0833);text-shadow:0 0 .4px #666">Total Agent(s) in List 867</span>
<span class="t" style="left:226.66px;top:625.64px;font-size:16.3px;font-weight:normal;color:#666;transform:scaleX(1.0851);text-shadow:0 0 .4px #666">Sort by Agent Name</span>
<span class="t" style="left:480.05px;top:633.04px;font-size:16.3px;font-weight:normal;color:#50505a;transform:scaleX(0.9463);text-shadow:0 0 .4px #50505a">Pick MLS</span>
<span class="t" style="left:576.08px;top:633.40px;font-size:16px;font-weight:normal;color:#3c3c44;transform:scaleX(0.9219);text-shadow:0 0 .4px #3c3c44">HAR</span>
<span class="t" style="left:676.94px;top:633.04px;font-size:16.3px;font-weight:normal;color:#50505a;transform:scaleX(1.0566);text-shadow:0 0 .4px #50505a">Pick Office</span>
<span class="t" style="left:402.28px;top:706.48px;font-size:16.5px;font-weight:bold;color:#2a2a2a;transform:scaleX(1.0224);">Agents Production by Office(s)</span>
<span class="t" style="left:16.00px;top:749.69px;font-size:12.6px;font-weight:normal;color:#4c4c4c;transform:scaleX(0.9442);text-shadow:0 0 .5px #4c4c4c">$100,000,000</span>
<span class="t" style="left:23.00px;top:799.09px;font-size:12.6px;font-weight:normal;color:#4c4c4c;transform:scaleX(0.9386);text-shadow:0 0 .5px #4c4c4c">$80,000,000</span>
<span class="t" style="left:23.00px;top:848.49px;font-size:12.6px;font-weight:normal;color:#4c4c4c;transform:scaleX(0.9386);text-shadow:0 0 .5px #4c4c4c">$60,000,000</span>
<span class="t" style="left:23.00px;top:897.89px;font-size:12.6px;font-weight:normal;color:#4c4c4c;transform:scaleX(0.9386);text-shadow:0 0 .5px #4c4c4c">$40,000,000</span>
<span class="t" style="left:23.00px;top:947.29px;font-size:12.6px;font-weight:normal;color:#4c4c4c;transform:scaleX(0.9386);text-shadow:0 0 .5px #4c4c4c">$20,000,000</span>
<span class="t" style="left:75.00px;top:996.69px;font-size:12.6px;font-weight:normal;color:#4c4c4c;transform:scaleX(0.9786);text-shadow:0 0 .5px #4c4c4c">$0</span>
<span class="t" style="left:115.00px;top:747.09px;font-size:11.9px;font-weight:bold;color:#2b2b2b;transform:scaleX(0.9848);">$98,315,262</span>
<span class="t" style="left:237.00px;top:757.88px;font-size:11.9px;font-weight:bold;color:#2b2b2b;transform:scaleX(0.9924);">$94,012,292</span>
<span class="t" style="left:358.80px;top:799.88px;font-size:11.9px;font-weight:bold;color:#2b2b2b;transform:scaleX(0.9939);">$76,916,757</span>
<span class="t" style="left:481.00px;top:919.59px;font-size:11.9px;font-weight:bold;color:#2b2b2b;transform:scaleX(0.9848);">$28,485,000</span>
<span class="t" style="left:603.00px;top:920.49px;font-size:11.9px;font-weight:bold;color:#2b2b2b;transform:scaleX(1.0000);">$28,155,788</span>
<span class="t" style="left:725.60px;top:924.68px;font-size:11.9px;font-weight:bold;color:#2b2b2b;transform:scaleX(0.9848);">$26,280,900</span>
<span class="t" style="left:398.80px;top:1078.87px;font-size:13.8px;font-weight:normal;color:#17480f;transform:scaleX(1.0054);text-shadow:0 0 .5px #17480f">Active</span>
<span class="t" style="left:459.98px;top:1078.87px;font-size:13.8px;font-weight:normal;color:#ab4018;transform:scaleX(1.0204);text-shadow:0 0 .5px #ab4018">Pending</span>
<span class="t" style="left:536.00px;top:1078.87px;font-size:13.8px;font-weight:normal;color:#fb9c12;transform:scaleX(0.9889);text-shadow:0 0 .5px #fb9c12">Active Under Contract</span>
<span class="t" style="left:348.56px;top:1419.90px;font-size:26px;font-weight:normal;color:#222;transform:scaleX(1.0691);text-shadow:0.3px 0 0 #222">Rēlitix</span>
<span class="t" style="left:312.00px;top:1452.88px;font-size:12.5px;font-weight:normal;color:#7a7a7a;transform:scaleX(0.9008);">Ver 2.0.2 Powered By</span>
<span class="t" style="left:602.50px;top:1261.67px;font-size:12.5px;font-weight:normal;color:#4a4a4a;transform:scaleX(0.8950);text-shadow:0 0 .5px #4a4a4a">600</span>
<span class="t" style="left:603.40px;top:1309.17px;font-size:12.5px;font-weight:normal;color:#4a4a4a;transform:scaleX(0.8524);text-shadow:0 0 .5px #4a4a4a">400</span>
<span class="t" style="left:602.50px;top:1356.97px;font-size:12.5px;font-weight:normal;color:#4a4a4a;transform:scaleX(0.8950);text-shadow:0 0 .5px #4a4a4a">200</span>
<span class="t" style="left:614.60px;top:1404.08px;font-size:12.5px;font-weight:normal;color:#4a4a4a;transform:scaleX(0.9571);text-shadow:0 0 .5px #4a4a4a">0</span>
<span class="t" style="left:624.50px;top:1426.88px;font-size:12.5px;font-weight:normal;color:#4a4a4a;transform:scaleX(0.9643);text-shadow:0 0 .5px #4a4a4a">$0</span>
<span class="t" style="left:697.00px;top:1426.88px;font-size:12.5px;font-weight:normal;color:#4a4a4a;transform:scaleX(0.9231);text-shadow:0 0 .5px #4a4a4a">$965,700</span>
<span class="t" style="left:780.80px;top:1426.88px;font-size:12.5px;font-weight:normal;color:#4a4a4a;transform:scaleX(0.9548);text-shadow:0 0 .5px #4a4a4a">$1,931,400</span>
<span class="t xl" style="left:131.02px;top:1020.00px;transform:rotate(-12.5deg) scaleX(0.9394);">Adam</span>
<span class="t xl" style="left:238.73px;top:1022.00px;transform:rotate(-12.5deg) scaleX(0.9189);">Jimmy</span>
<span class="t xl" style="left:364.60px;top:1020.50px;transform:rotate(-12.5deg) scaleX(0.9767);">Michael</span>
<span class="t xl" style="left:499.62px;top:1019.50px;transform:rotate(-12.5deg) scaleX(0.9615);">Nina</span>
<span class="t xl" style="left:610.04px;top:1020.50px;transform:rotate(-12.5deg) scaleX(0.9756);">Monica</span>
<span class="t xl" style="left:696.10px;top:1019.00px;transform:rotate(-12.5deg) scaleX(0.9333);">Shahin Naghavi</span>
</body>
</html>
